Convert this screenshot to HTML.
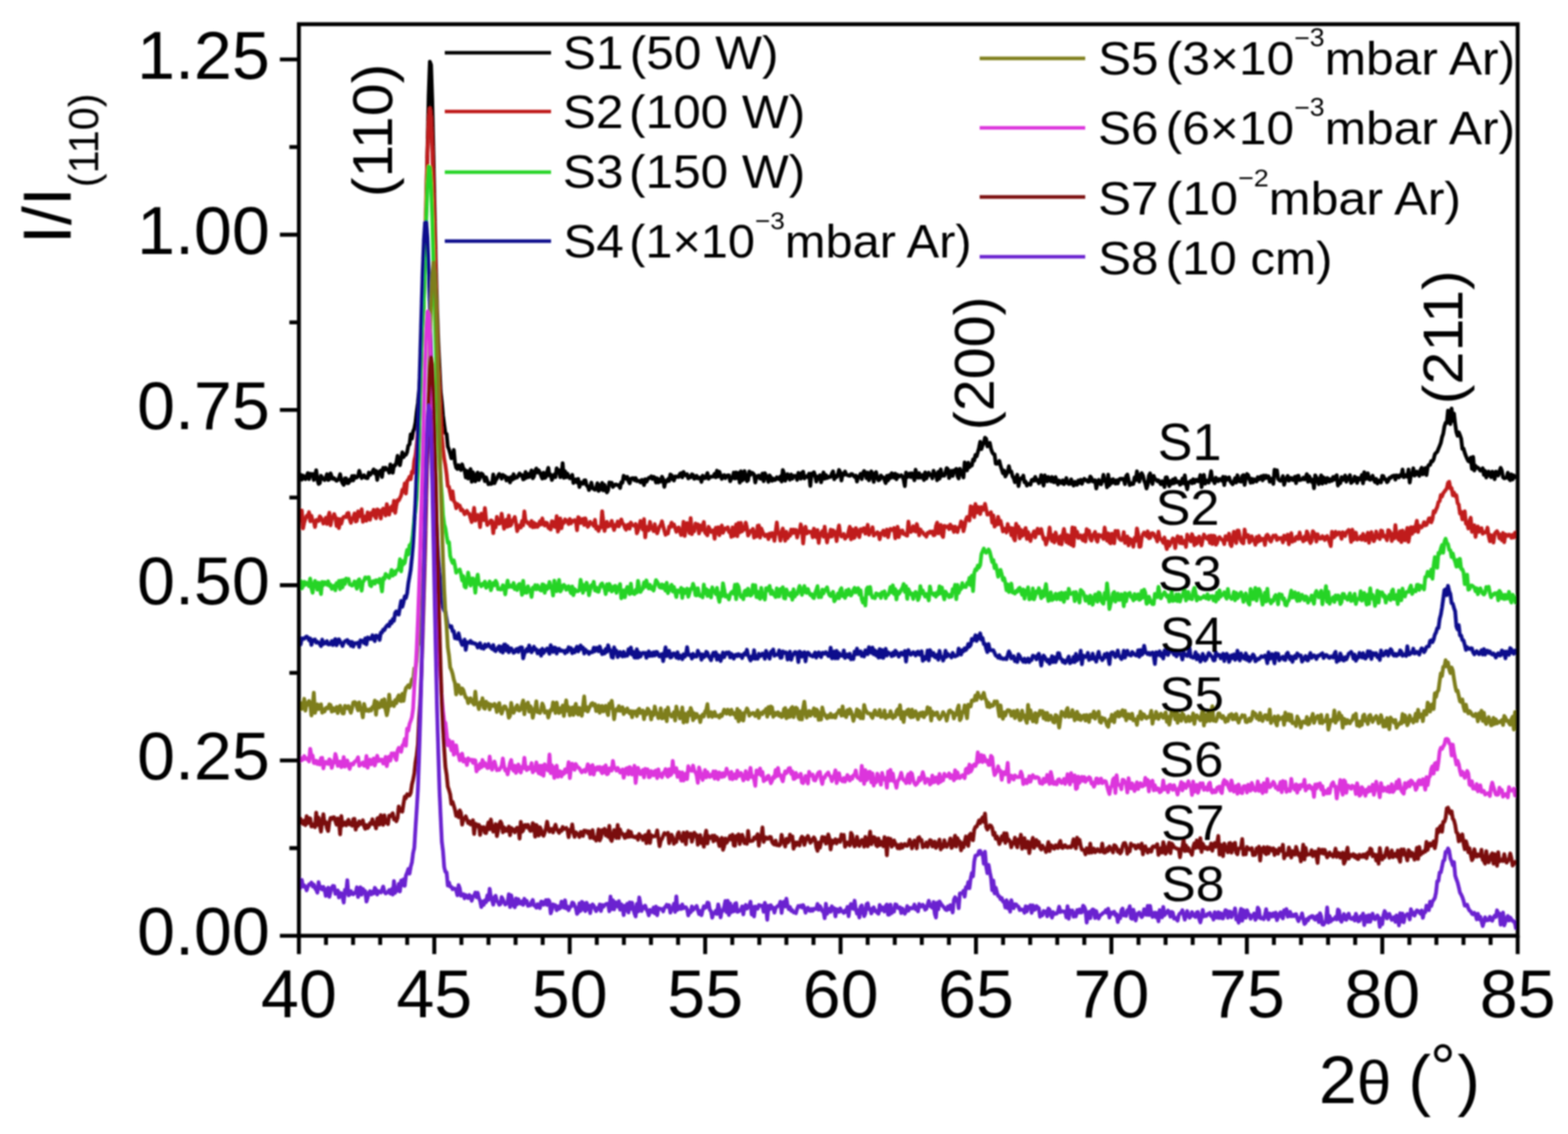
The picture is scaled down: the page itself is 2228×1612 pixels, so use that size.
<!DOCTYPE html>
<html><head><meta charset="utf-8"><title>XRD</title>
<style>html,body{margin:0;padding:0;background:#fff;overflow:hidden;}svg{display:block;}</style>
</head><body>
<svg width="2228" height="1612" viewBox="0 0 2228 1612">
<rect width="2228" height="1612" fill="#ffffff"/>
<defs><filter id="soft" x="0" y="0" width="100%" height="100%" filterUnits="userSpaceOnUse"><feGaussianBlur stdDeviation="0.8"/></filter></defs>
<g filter="url(#soft)">
<g id="curves">
<polyline points="425.5,680.2 427.2,674.8 428.9,681.8 430.6,676.0 432.3,679.5 434.0,681.1 435.7,676.5 437.4,672.5 439.1,681.1 440.8,673.4 442.5,674.5 444.2,673.7 445.9,682.2 447.6,677.9 449.3,668.4 451.0,681.6 452.7,687.9 454.4,686.8 456.1,676.3 457.8,679.0 459.5,680.8 461.2,682.4 462.9,678.9 464.6,674.1 466.3,682.3 468.0,681.4 469.7,672.9 471.4,677.5 473.1,680.6 474.8,679.7 476.5,682.0 478.2,683.4 479.9,682.3 481.6,679.5 483.3,674.0 485.0,682.9 486.7,686.7 488.4,689.2 490.1,680.0 491.8,680.0 493.5,686.9 495.2,686.7 496.9,681.8 498.6,683.3 500.3,676.7 502.0,682.9 503.7,676.6 505.4,679.1 507.1,678.6 508.8,676.8 510.5,669.2 512.2,674.6 513.9,679.6 515.6,677.4 517.3,675.6 519.0,678.9 520.7,679.5 522.4,679.8 524.1,671.8 525.8,675.2 527.5,673.1 529.2,670.4 530.9,667.2 532.6,673.1 534.3,669.3 536.0,682.2 537.7,671.5 539.4,670.1 541.1,668.8 542.8,678.1 544.5,664.9 546.2,668.1 547.9,664.9 549.6,667.4 551.3,667.5 553.0,672.0 554.7,660.1 556.4,665.6 558.1,672.0 559.8,661.7 561.5,661.9 563.2,657.4 564.9,647.9 566.6,657.5 568.3,661.3 570.0,651.7 571.7,643.0 573.4,649.8 575.1,645.9 576.8,646.4 578.5,642.6 580.2,633.3 581.9,631.6 583.6,617.4 585.3,623.5 587.0,613.4 588.7,609.3 590.4,600.5 592.1,585.3 593.8,573.0 595.5,554.7 597.2,531.2 598.9,509.0 600.6,473.4 602.3,424.3 604.0,367.3 605.7,293.3 607.4,212.7 609.1,135.7 610.8,87.6 612.5,92.2 614.2,142.9 615.9,219.9 617.6,302.3 619.3,376.9 621.0,438.9 622.7,486.9 624.4,520.9 626.1,556.1 627.8,571.0 629.5,590.6 631.2,603.5 632.9,615.8 634.6,617.0 636.3,634.7 638.0,638.8 639.7,644.7 641.4,651.5 643.1,646.3 644.8,639.6 646.5,657.9 648.2,664.9 649.9,666.6 651.6,661.3 653.3,664.8 655.0,668.1 656.7,660.1 658.4,666.3 660.1,667.7 661.8,678.7 663.5,669.4 665.2,680.2 666.9,674.1 668.6,666.8 670.3,684.9 672.0,671.3 673.7,679.0 675.4,684.2 677.1,674.4 678.8,671.8 680.5,682.3 682.2,678.5 683.9,673.0 685.6,674.0 687.3,677.7 689.0,684.0 690.7,678.6 692.4,683.4 694.1,688.3 695.8,687.0 697.5,688.1 699.2,687.3 700.9,674.4 702.6,686.9 704.3,682.7 706.0,680.4 707.7,676.3 709.4,673.8 711.1,675.6 712.8,680.4 714.5,675.0 716.2,676.4 717.9,677.1 719.6,682.9 721.3,678.9 723.0,679.3 724.7,685.8 726.4,678.1 728.1,681.9 729.8,674.1 731.5,679.9 733.2,678.7 734.9,678.7 736.6,675.7 738.3,673.0 740.0,676.0 741.7,675.2 743.4,681.5 745.1,680.8 746.8,671.0 748.5,678.9 750.2,673.8 751.9,677.9 753.6,673.2 755.3,668.7 757.0,679.9 758.7,677.3 760.4,669.4 762.1,666.0 763.8,671.7 765.5,668.7 767.2,672.0 768.9,676.4 770.6,680.3 772.3,672.0 774.0,679.5 775.7,678.2 777.4,670.7 779.1,665.0 780.8,676.1 782.5,674.7 784.2,682.3 785.9,677.8 787.6,674.6 789.3,678.2 791.0,665.7 792.7,671.0 794.4,668.4 796.1,678.3 797.8,674.0 799.5,658.4 801.2,679.3 802.9,669.9 804.6,678.4 806.3,673.2 808.0,677.4 809.7,679.9 811.4,679.0 813.1,675.0 814.8,686.6 816.5,682.8 818.2,681.5 819.9,685.7 821.6,680.9 823.3,692.3 825.0,685.7 826.7,687.2 828.4,687.7 830.1,682.9 831.8,682.7 833.5,689.9 835.2,691.3 836.9,696.6 838.6,692.7 840.3,686.1 842.0,693.7 843.7,695.1 845.4,696.1 847.1,693.4 848.8,686.9 850.5,697.9 852.2,689.6 853.9,695.8 855.6,686.4 857.3,697.0 859.0,689.2 860.7,697.0 862.4,700.0 864.1,696.7 865.8,685.8 867.5,686.2 869.2,686.3 870.9,692.2 872.6,690.2 874.3,688.8 876.0,689.0 877.7,689.7 879.4,689.5 881.1,693.7 882.8,685.4 884.5,686.2 886.2,676.3 887.9,678.1 889.6,680.6 891.3,677.9 893.0,683.8 894.7,687.0 896.4,680.3 898.1,680.0 899.8,679.8 901.5,682.6 903.2,679.5 904.9,683.9 906.6,683.4 908.3,683.9 910.0,685.7 911.7,682.2 913.4,682.5 915.1,689.6 916.8,681.2 918.5,684.9 920.2,681.8 921.9,679.2 923.6,679.2 925.3,677.2 927.0,680.8 928.7,677.9 930.4,678.9 932.1,685.9 933.8,679.9 935.5,685.8 937.2,681.6 938.9,684.5 940.6,677.7 942.3,681.0 944.0,692.0 945.7,683.6 947.4,684.5 949.1,681.1 950.8,683.6 952.5,674.4 954.2,675.5 955.9,681.1 957.6,683.0 959.3,677.3 961.0,678.1 962.7,677.3 964.4,678.0 966.1,673.7 967.8,672.7 969.5,678.6 971.2,671.0 972.9,674.5 974.6,675.8 976.3,674.2 978.0,680.1 979.7,677.0 981.4,678.5 983.1,674.2 984.8,675.1 986.5,680.6 988.2,679.7 989.9,676.3 991.6,680.0 993.3,679.2 995.0,679.0 996.7,685.1 998.4,676.2 1000.1,679.9 1001.8,679.8 1003.5,676.9 1005.2,672.6 1006.9,680.6 1008.6,678.6 1010.3,677.6 1012.0,677.5 1013.7,677.5 1015.4,673.5 1017.1,678.5 1018.8,669.1 1020.5,677.4 1022.2,670.6 1023.9,676.0 1025.6,680.8 1027.3,676.3 1029.0,675.4 1030.7,679.7 1032.4,676.3 1034.1,675.7 1035.8,675.8 1037.5,684.0 1039.2,680.4 1040.9,679.3 1042.6,671.8 1044.3,680.2 1046.0,671.6 1047.7,679.7 1049.4,672.2 1051.1,686.1 1052.8,669.9 1054.5,683.0 1056.2,681.3 1057.9,669.6 1059.6,676.3 1061.3,684.0 1063.0,682.7 1064.7,670.1 1066.4,675.0 1068.1,672.0 1069.8,672.8 1071.5,674.6 1073.2,685.9 1074.9,678.2 1076.6,676.6 1078.3,676.0 1080.0,680.3 1081.7,680.5 1083.4,673.2 1085.1,684.0 1086.8,672.6 1088.5,676.2 1090.2,679.5 1091.9,684.9 1093.6,675.8 1095.3,678.7 1097.0,683.4 1098.7,680.4 1100.4,682.5 1102.1,681.9 1103.8,678.4 1105.5,680.1 1107.2,681.3 1108.9,677.2 1110.6,684.5 1112.3,668.1 1114.0,672.8 1115.7,683.3 1117.4,678.7 1119.1,674.1 1120.8,678.8 1122.5,681.9 1124.2,674.5 1125.9,680.3 1127.6,676.4 1129.3,676.5 1131.0,676.6 1132.7,682.2 1134.4,672.2 1136.1,675.9 1137.8,680.4 1139.5,672.0 1141.2,670.5 1142.9,680.1 1144.6,677.7 1146.3,677.0 1148.0,678.2 1149.7,673.2 1151.4,690.8 1153.1,673.2 1154.8,675.7 1156.5,671.3 1158.2,675.8 1159.9,684.5 1161.6,677.7 1163.3,680.4 1165.0,675.5 1166.7,685.6 1168.4,678.1 1170.1,671.6 1171.8,680.5 1173.5,675.3 1175.2,679.6 1176.9,677.7 1178.6,678.2 1180.3,677.8 1182.0,673.1 1183.7,670.2 1185.4,681.4 1187.1,676.2 1188.8,678.2 1190.5,674.7 1192.2,668.0 1193.9,671.4 1195.6,683.0 1197.3,673.2 1199.0,675.1 1200.7,670.3 1202.4,674.7 1204.1,675.2 1205.8,676.0 1207.5,676.4 1209.2,673.9 1210.9,673.9 1212.6,676.1 1214.3,677.8 1216.0,676.0 1217.7,684.5 1219.4,677.7 1221.1,677.4 1222.8,673.6 1224.5,681.1 1226.2,672.3 1227.9,669.5 1229.6,672.4 1231.3,679.8 1233.0,671.8 1234.7,682.8 1236.4,676.9 1238.1,670.0 1239.8,676.0 1241.5,685.0 1243.2,673.0 1244.9,671.2 1246.6,679.3 1248.3,682.8 1250.0,681.7 1251.7,675.9 1253.4,678.3 1255.1,678.6 1256.8,682.2 1258.5,686.7 1260.2,676.4 1261.9,682.9 1263.6,675.5 1265.3,679.6 1267.0,672.7 1268.7,673.8 1270.4,679.1 1272.1,673.3 1273.8,681.3 1275.5,675.1 1277.2,677.7 1278.9,676.7 1280.6,675.6 1282.3,677.6 1284.0,681.8 1285.7,691.0 1287.4,671.7 1289.1,678.4 1290.8,676.2 1292.5,673.0 1294.2,678.2 1295.9,672.8 1297.6,676.7 1299.3,682.7 1301.0,667.8 1302.7,678.1 1304.4,679.0 1306.1,672.6 1307.8,679.0 1309.5,678.2 1311.2,675.0 1312.9,682.4 1314.6,671.4 1316.3,680.2 1318.0,675.9 1319.7,671.9 1321.4,675.4 1323.1,674.7 1324.8,679.9 1326.5,669.2 1328.2,674.9 1329.9,673.6 1331.6,682.7 1333.3,670.6 1335.0,680.4 1336.7,667.3 1338.4,676.5 1340.1,674.1 1341.8,676.2 1343.5,671.0 1345.2,665.4 1346.9,667.0 1348.6,679.6 1350.3,674.4 1352.0,669.2 1353.7,676.6 1355.4,668.8 1357.1,668.7 1358.8,666.5 1360.5,676.6 1362.2,680.1 1363.9,666.4 1365.6,671.4 1367.3,674.0 1369.0,678.7 1370.7,657.3 1372.4,667.7 1374.1,668.7 1375.8,657.6 1377.5,664.2 1379.2,661.6 1380.9,661.7 1382.6,653.3 1384.3,654.8 1386.0,646.8 1387.7,648.8 1389.4,643.0 1391.1,636.6 1392.8,628.0 1394.5,638.4 1396.2,633.0 1397.9,629.9 1399.6,622.2 1401.3,623.8 1403.0,634.6 1404.7,633.3 1406.4,629.5 1408.1,637.8 1409.8,642.7 1411.5,645.4 1413.2,645.9 1414.9,659.1 1416.6,659.3 1418.3,658.7 1420.0,655.1 1421.7,662.1 1423.4,667.3 1425.1,672.8 1426.8,669.0 1428.5,677.3 1430.2,674.0 1431.9,671.1 1433.6,662.7 1435.3,670.7 1437.0,670.2 1438.7,677.0 1440.4,679.8 1442.1,685.4 1443.8,679.3 1445.5,674.9 1447.2,691.0 1448.9,682.2 1450.6,679.9 1452.3,680.6 1454.0,676.1 1455.7,685.4 1457.4,684.5 1459.1,690.3 1460.8,688.2 1462.5,687.5 1464.2,689.0 1465.9,682.3 1467.6,681.7 1469.3,683.4 1471.0,677.9 1472.7,682.9 1474.4,682.3 1476.1,686.9 1477.8,683.9 1479.5,675.4 1481.2,684.0 1482.9,690.3 1484.6,675.8 1486.3,680.6 1488.0,684.2 1489.7,678.0 1491.4,681.5 1493.1,684.1 1494.8,678.1 1496.5,685.1 1498.2,685.5 1499.9,678.2 1501.6,683.8 1503.3,688.6 1505.0,683.1 1506.7,685.6 1508.4,686.7 1510.1,682.9 1511.8,688.3 1513.5,685.8 1515.2,679.6 1516.9,686.4 1518.6,688.1 1520.3,687.7 1522.0,681.4 1523.7,686.4 1525.4,690.2 1527.1,684.9 1528.8,688.9 1530.5,689.1 1532.2,683.0 1533.9,686.4 1535.6,682.0 1537.3,687.8 1539.0,682.8 1540.7,680.6 1542.4,682.7 1544.1,682.5 1545.8,684.8 1547.5,684.9 1549.2,677.4 1550.9,679.7 1552.6,684.4 1554.3,684.7 1556.0,682.7 1557.7,694.4 1559.4,687.7 1561.1,682.2 1562.8,685.8 1564.5,688.4 1566.2,684.4 1567.9,675.0 1569.6,683.5 1571.3,683.2 1573.0,692.7 1574.7,674.7 1576.4,689.8 1578.1,681.9 1579.8,686.7 1581.5,681.2 1583.2,683.3 1584.9,687.5 1586.6,682.8 1588.3,687.2 1590.0,681.9 1591.7,680.5 1593.4,681.3 1595.1,680.4 1596.8,681.8 1598.5,688.2 1600.2,676.7 1601.9,674.6 1603.6,682.0 1605.3,689.6 1607.0,686.8 1608.7,688.3 1610.4,687.9 1612.1,678.8 1613.8,682.7 1615.5,670.0 1617.2,679.3 1618.9,684.7 1620.6,674.9 1622.3,672.7 1624.0,676.0 1625.7,683.0 1627.4,687.4 1629.1,694.3 1630.8,689.2 1632.5,676.2 1634.2,672.9 1635.9,683.9 1637.6,688.1 1639.3,676.4 1641.0,681.2 1642.7,681.6 1644.4,684.0 1646.1,682.8 1647.8,685.7 1649.5,688.3 1651.2,684.0 1652.9,686.9 1654.6,692.3 1656.3,678.6 1658.0,678.4 1659.7,685.4 1661.4,691.1 1663.1,683.8 1664.8,687.8 1666.5,681.7 1668.2,686.9 1669.9,679.9 1671.6,685.7 1673.3,684.5 1675.0,684.4 1676.7,689.0 1678.4,687.7 1680.1,680.3 1681.8,687.1 1683.5,675.6 1685.2,687.7 1686.9,695.5 1688.6,685.7 1690.3,685.5 1692.0,683.6 1693.7,687.0 1695.4,681.3 1697.1,686.2 1698.8,682.1 1700.5,681.9 1702.2,684.2 1703.9,683.1 1705.6,675.3 1707.3,692.5 1709.0,683.5 1710.7,675.1 1712.4,687.5 1714.1,682.7 1715.8,683.8 1717.5,686.0 1719.2,679.0 1720.9,669.8 1722.6,682.3 1724.3,683.7 1726.0,686.9 1727.7,679.1 1729.4,681.5 1731.1,684.0 1732.8,681.0 1734.5,681.3 1736.2,683.4 1737.9,677.8 1739.6,689.6 1741.3,678.2 1743.0,682.2 1744.7,680.5 1746.4,678.6 1748.1,684.2 1749.8,686.5 1751.5,688.3 1753.2,684.4 1754.9,679.9 1756.6,685.9 1758.3,675.6 1760.0,682.5 1761.7,684.4 1763.4,684.7 1765.1,676.7 1766.8,675.3 1768.5,689.4 1770.2,679.2 1771.9,673.8 1773.6,675.5 1775.3,681.1 1777.0,686.1 1778.7,680.5 1780.4,685.7 1782.1,681.3 1783.8,682.2 1785.5,684.4 1787.2,678.3 1788.9,681.5 1790.6,678.2 1792.3,677.0 1794.0,682.8 1795.7,676.0 1797.4,679.9 1799.1,676.1 1800.8,679.2 1802.5,677.1 1804.2,684.8 1805.9,680.4 1807.6,680.7 1809.3,687.9 1811.0,667.7 1812.7,675.7 1814.4,668.4 1816.1,680.7 1817.8,682.6 1819.5,683.5 1821.2,681.7 1822.9,676.9 1824.6,689.2 1826.3,682.9 1828.0,680.4 1829.7,676.5 1831.4,683.3 1833.1,679.4 1834.8,679.5 1836.5,682.3 1838.2,682.3 1839.9,677.7 1841.6,686.8 1843.3,676.8 1845.0,676.2 1846.7,682.6 1848.4,681.9 1850.1,681.5 1851.8,679.2 1853.5,681.5 1855.2,678.7 1856.9,674.0 1858.6,684.8 1860.3,677.1 1862.0,680.6 1863.7,685.0 1865.4,681.8 1867.1,694.1 1868.8,675.6 1870.5,678.7 1872.2,682.6 1873.9,688.2 1875.6,680.9 1877.3,675.7 1879.0,687.5 1880.7,678.6 1882.4,681.7 1884.1,686.3 1885.8,679.4 1887.5,680.5 1889.2,684.6 1890.9,681.4 1892.6,683.5 1894.3,678.0 1896.0,681.7 1897.7,677.4 1899.4,675.5 1901.1,690.3 1902.8,684.7 1904.5,686.9 1906.2,678.3 1907.9,682.3 1909.6,681.4 1911.3,675.9 1913.0,684.8 1914.7,679.1 1916.4,681.5 1918.1,675.4 1919.8,686.5 1921.5,685.0 1923.2,683.5 1924.9,677.5 1926.6,679.0 1928.3,686.5 1930.0,679.6 1931.7,682.0 1933.4,681.0 1935.1,675.2 1936.8,687.0 1938.5,671.1 1940.2,681.1 1941.9,679.5 1943.6,672.8 1945.3,681.3 1947.0,682.1 1948.7,679.9 1950.4,676.2 1952.1,681.9 1953.8,685.2 1955.5,680.7 1957.2,687.3 1958.9,683.4 1960.6,683.0 1962.3,685.8 1964.0,676.4 1965.7,676.9 1967.4,681.3 1969.1,681.2 1970.8,685.5 1972.5,683.8 1974.2,679.3 1975.9,679.5 1977.6,677.3 1979.3,676.6 1981.0,676.0 1982.7,681.8 1984.4,675.8 1986.1,676.4 1987.8,678.6 1989.5,675.3 1991.2,676.5 1992.9,667.4 1994.6,678.4 1996.3,675.2 1998.0,677.2 1999.7,677.7 2001.4,667.4 2003.1,686.1 2004.8,675.4 2006.5,675.1 2008.2,665.7 2009.9,676.0 2011.6,674.7 2013.3,670.4 2015.0,672.4 2016.7,676.4 2018.4,668.3 2020.1,664.9 2021.8,674.2 2023.5,668.9 2025.2,665.4 2026.9,675.3 2028.6,664.0 2030.3,660.9 2032.0,660.9 2033.7,655.4 2035.4,655.9 2037.1,652.9 2038.8,645.8 2040.5,643.8 2042.2,642.3 2043.9,638.1 2045.6,633.9 2047.3,629.6 2049.0,621.5 2050.7,616.6 2052.4,606.3 2054.1,601.0 2055.8,601.3 2057.5,583.6 2059.2,591.5 2060.9,602.8 2062.6,580.8 2064.3,598.4 2066.0,587.8 2067.7,602.7 2069.4,614.1 2071.1,619.4 2072.8,614.5 2074.5,618.5 2076.2,623.5 2077.9,638.1 2079.6,637.8 2081.3,643.7 2083.0,648.3 2084.7,652.3 2086.4,655.6 2088.1,656.3 2089.8,650.6 2091.5,666.5 2093.2,649.4 2094.9,668.9 2096.6,662.2 2098.3,665.1 2100.0,664.8 2101.7,666.4 2103.4,669.0 2105.1,668.6 2106.8,665.5 2108.5,675.1 2110.2,669.3 2111.9,678.8 2113.6,672.3 2115.3,670.4 2117.0,675.9 2118.7,678.3 2120.4,670.5 2122.1,673.7 2123.8,681.2 2125.5,670.4 2127.2,671.3 2128.9,675.9 2130.6,670.1 2132.3,665.0 2134.0,668.9 2135.7,678.5 2137.4,680.0 2139.1,679.5 2140.8,678.9 2142.5,671.9 2144.2,680.5 2145.9,682.7 2147.6,674.3 2149.3,681.6 2151.0,675.8 2152.7,678.4 2154.4,679.3" fill="none" stroke="#000000" stroke-width="5.4" stroke-linejoin="round"/>
<polyline points="425.5,737.1 427.2,739.3 428.9,725.8 430.6,751.1 432.3,742.8 434.0,737.6 435.7,733.3 437.4,734.3 439.1,728.1 440.8,741.0 442.5,733.1 444.2,740.6 445.9,740.7 447.6,749.1 449.3,739.1 451.0,739.2 452.7,740.5 454.4,734.0 456.1,736.1 457.8,739.2 459.5,744.3 461.2,741.9 462.9,736.1 464.6,744.8 466.3,735.5 468.0,728.8 469.7,746.8 471.4,737.7 473.1,735.1 474.8,730.7 476.5,735.2 478.2,747.7 479.9,737.5 481.6,750.7 483.3,738.0 485.0,744.4 486.7,737.8 488.4,734.6 490.1,734.4 491.8,735.1 493.5,729.6 495.2,729.2 496.9,738.1 498.6,743.2 500.3,736.7 502.0,735.9 503.7,729.9 505.4,741.4 507.1,740.3 508.8,727.0 510.5,734.2 512.2,731.4 513.9,724.0 515.6,741.8 517.3,739.4 519.0,734.0 520.7,740.2 522.4,728.3 524.1,732.6 525.8,738.8 527.5,728.9 529.2,732.2 530.9,724.7 532.6,733.9 534.3,736.7 536.0,724.1 537.7,725.1 539.4,728.8 541.1,737.0 542.8,725.4 544.5,723.0 546.2,726.4 547.9,732.8 549.6,716.7 551.3,723.6 553.0,731.5 554.7,722.7 556.4,720.1 558.1,725.4 559.8,711.9 561.5,729.1 563.2,718.0 564.9,711.0 566.6,711.4 568.3,708.0 570.0,704.2 571.7,696.3 573.4,699.0 575.1,687.2 576.8,701.6 578.5,683.7 580.2,682.0 581.9,677.7 583.6,681.1 585.3,670.6 587.0,672.2 588.7,654.6 590.4,647.3 592.1,632.9 593.8,613.7 595.5,594.7 597.2,563.0 598.9,522.0 600.6,464.9 602.3,410.5 604.0,342.9 605.7,276.2 607.4,214.4 609.1,170.7 610.8,154.3 612.5,168.9 614.2,213.3 615.9,271.9 617.6,340.4 619.3,407.7 621.0,466.8 622.7,517.5 624.4,553.1 626.1,591.3 627.8,620.0 629.5,638.6 631.2,652.5 632.9,661.6 634.6,674.2 636.3,691.0 638.0,692.1 639.7,700.9 641.4,709.5 643.1,698.5 644.8,712.1 646.5,714.4 648.2,722.4 649.9,716.4 651.6,718.8 653.3,718.7 655.0,725.5 656.7,724.3 658.4,726.6 660.1,730.9 661.8,728.3 663.5,726.2 665.2,730.1 666.9,730.3 668.6,736.7 670.3,742.1 672.0,733.4 673.7,721.9 675.4,740.0 677.1,736.8 678.8,732.1 680.5,736.5 682.2,749.3 683.9,730.2 685.6,732.6 687.3,739.3 689.0,722.1 690.7,737.8 692.4,746.3 694.1,744.1 695.8,743.4 697.5,739.7 699.2,740.7 700.9,757.9 702.6,743.4 704.3,749.7 706.0,734.6 707.7,743.6 709.4,744.5 711.1,743.5 712.8,730.1 714.5,740.7 716.2,751.7 717.9,746.3 719.6,738.7 721.3,748.7 723.0,732.9 724.7,747.4 726.4,746.0 728.1,740.3 729.8,738.2 731.5,734.8 733.2,743.4 734.9,755.0 736.6,749.9 738.3,746.9 740.0,749.9 741.7,740.7 743.4,746.8 745.1,727.0 746.8,741.2 748.5,741.4 750.2,744.0 751.9,743.3 753.6,747.7 755.3,740.6 757.0,749.6 758.7,743.1 760.4,749.2 762.1,744.9 763.8,748.9 765.5,746.8 767.2,740.9 768.9,745.4 770.6,737.0 772.3,745.1 774.0,747.0 775.7,742.9 777.4,743.6 779.1,750.1 780.8,751.4 782.5,752.7 784.2,741.0 785.9,741.5 787.6,748.5 789.3,749.2 791.0,733.6 792.7,755.7 794.4,751.0 796.1,736.9 797.8,750.9 799.5,741.6 801.2,743.3 802.9,738.4 804.6,739.5 806.3,741.9 808.0,744.8 809.7,737.8 811.4,743.9 813.1,740.2 814.8,741.1 816.5,739.2 818.2,740.4 819.9,753.7 821.6,735.1 823.3,736.5 825.0,743.4 826.7,740.8 828.4,737.5 830.1,746.2 831.8,736.8 833.5,743.5 835.2,749.0 836.9,746.7 838.6,741.9 840.3,743.9 842.0,744.9 843.7,747.7 845.4,739.0 847.1,751.6 848.8,748.5 850.5,754.8 852.2,748.9 853.9,749.8 855.6,726.6 857.3,741.2 859.0,754.7 860.7,746.4 862.4,741.9 864.1,748.5 865.8,745.2 867.5,747.0 869.2,740.4 870.9,747.7 872.6,753.5 874.3,746.3 876.0,747.8 877.7,741.3 879.4,748.3 881.1,743.7 882.8,738.4 884.5,744.0 886.2,745.3 887.9,750.3 889.6,752.9 891.3,746.5 893.0,745.6 894.7,751.6 896.4,742.8 898.1,746.2 899.8,746.8 901.5,747.4 903.2,744.9 904.9,758.1 906.6,754.1 908.3,748.0 910.0,740.6 911.7,746.2 913.4,752.7 915.1,738.0 916.8,763.9 918.5,749.0 920.2,749.7 921.9,753.7 923.6,741.8 925.3,750.8 927.0,750.8 928.7,755.0 930.4,745.1 932.1,754.8 933.8,758.1 935.5,753.2 937.2,748.3 938.9,746.4 940.6,741.1 942.3,748.0 944.0,754.3 945.7,760.2 947.4,757.4 949.1,758.4 950.8,748.7 952.5,749.3 954.2,742.9 955.9,748.0 957.6,745.5 959.3,750.6 961.0,756.0 962.7,751.2 964.4,749.8 966.1,755.7 967.8,760.5 969.5,757.9 971.2,741.7 972.9,761.9 974.6,749.3 976.3,743.5 978.0,749.8 979.7,757.8 981.4,736.4 983.1,759.4 984.8,753.1 986.5,755.2 988.2,744.1 989.9,748.7 991.6,745.3 993.3,758.4 995.0,746.9 996.7,753.7 998.4,747.7 1000.1,742.0 1001.8,757.0 1003.5,758.9 1005.2,761.0 1006.9,748.8 1008.6,752.4 1010.3,756.2 1012.0,754.3 1013.7,753.7 1015.4,765.9 1017.1,750.2 1018.8,757.9 1020.5,749.6 1022.2,760.9 1023.9,751.2 1025.6,747.0 1027.3,757.4 1029.0,753.5 1030.7,751.1 1032.4,752.1 1034.1,749.6 1035.8,756.3 1037.5,755.3 1039.2,763.2 1040.9,749.7 1042.6,761.9 1044.3,756.8 1046.0,745.4 1047.7,762.2 1049.4,743.4 1051.1,756.9 1052.8,743.2 1054.5,755.4 1056.2,751.7 1057.9,752.6 1059.6,743.0 1061.3,749.9 1063.0,761.3 1064.7,758.2 1066.4,754.6 1068.1,754.4 1069.8,751.8 1071.5,764.3 1073.2,755.9 1074.9,762.6 1076.6,747.5 1078.3,747.1 1080.0,764.2 1081.7,751.3 1083.4,755.6 1085.1,759.5 1086.8,762.1 1088.5,760.2 1090.2,759.9 1091.9,766.4 1093.6,758.5 1095.3,762.6 1097.0,757.8 1098.7,758.4 1100.4,768.8 1102.1,756.2 1103.8,742.8 1105.5,758.2 1107.2,758.9 1108.9,768.6 1110.6,755.9 1112.3,751.3 1114.0,758.7 1115.7,768.7 1117.4,755.9 1119.1,765.1 1120.8,760.4 1122.5,761.5 1124.2,752.8 1125.9,758.0 1127.6,752.7 1129.3,757.3 1131.0,753.3 1132.7,764.1 1134.4,754.9 1136.1,756.9 1137.8,745.3 1139.5,752.4 1141.2,772.6 1142.9,756.0 1144.6,748.8 1146.3,758.3 1148.0,757.0 1149.7,755.6 1151.4,756.7 1153.1,755.8 1154.8,763.8 1156.5,751.4 1158.2,759.9 1159.9,763.6 1161.6,753.4 1163.3,771.8 1165.0,758.7 1166.7,757.9 1168.4,755.2 1170.1,762.9 1171.8,748.8 1173.5,761.5 1175.2,771.1 1176.9,760.2 1178.6,763.1 1180.3,752.9 1182.0,762.7 1183.7,753.8 1185.4,755.6 1187.1,758.1 1188.8,769.3 1190.5,754.9 1192.2,746.9 1193.9,758.8 1195.6,762.6 1197.3,761.7 1199.0,759.1 1200.7,765.8 1202.4,762.8 1204.1,762.7 1205.8,755.2 1207.5,748.8 1209.2,766.8 1210.9,752.4 1212.6,764.9 1214.3,764.2 1216.0,750.6 1217.7,753.7 1219.4,760.2 1221.1,763.5 1222.8,752.3 1224.5,755.7 1226.2,751.6 1227.9,750.7 1229.6,758.6 1231.3,755.2 1233.0,746.1 1234.7,760.3 1236.4,755.2 1238.1,755.0 1239.8,749.5 1241.5,761.4 1243.2,758.8 1244.9,758.8 1246.6,756.5 1248.3,759.1 1250.0,766.6 1251.7,757.9 1253.4,758.3 1255.1,754.3 1256.8,761.1 1258.5,755.7 1260.2,752.8 1261.9,763.7 1263.6,755.9 1265.3,751.9 1267.0,752.7 1268.7,753.8 1270.4,750.5 1272.1,765.2 1273.8,760.1 1275.5,748.8 1277.2,763.5 1278.9,754.3 1280.6,757.8 1282.3,754.1 1284.0,759.0 1285.7,758.6 1287.4,760.9 1289.1,761.4 1290.8,741.5 1292.5,753.5 1294.2,756.2 1295.9,754.9 1297.6,748.0 1299.3,754.5 1301.0,755.6 1302.7,745.0 1304.4,751.8 1306.1,760.9 1307.8,752.6 1309.5,755.8 1311.2,756.7 1312.9,759.6 1314.6,760.6 1316.3,762.8 1318.0,757.4 1319.7,757.8 1321.4,755.7 1323.1,757.5 1324.8,755.6 1326.5,760.8 1328.2,760.5 1329.9,748.1 1331.6,742.9 1333.3,758.3 1335.0,752.6 1336.7,746.2 1338.4,760.5 1340.1,763.3 1341.8,747.4 1343.5,748.2 1345.2,749.3 1346.9,748.2 1348.6,752.1 1350.3,745.7 1352.0,751.2 1353.7,748.5 1355.4,756.2 1357.1,748.7 1358.8,753.6 1360.5,756.3 1362.2,749.5 1363.9,749.0 1365.6,741.3 1367.3,743.1 1369.0,755.2 1370.7,748.4 1372.4,739.0 1374.1,734.9 1375.8,734.7 1377.5,740.0 1379.2,719.8 1380.9,731.6 1382.6,721.0 1384.3,735.0 1386.0,716.5 1387.7,728.9 1389.4,720.7 1391.1,721.6 1392.8,730.7 1394.5,720.8 1396.2,725.0 1397.9,724.3 1399.6,716.2 1401.3,724.0 1403.0,731.6 1404.7,729.7 1406.4,731.0 1408.1,728.0 1409.8,743.0 1411.5,732.7 1413.2,748.6 1414.9,741.0 1416.6,745.8 1418.3,734.7 1420.0,744.9 1421.7,740.3 1423.4,747.5 1425.1,755.4 1426.8,751.5 1428.5,751.8 1430.2,756.9 1431.9,745.0 1433.6,753.4 1435.3,750.2 1437.0,760.8 1438.7,751.0 1440.4,765.2 1442.1,768.2 1443.8,744.5 1445.5,756.5 1447.2,748.6 1448.9,765.3 1450.6,753.0 1452.3,761.9 1454.0,760.6 1455.7,753.9 1457.4,750.6 1459.1,766.1 1460.8,756.4 1462.5,761.7 1464.2,769.1 1465.9,760.8 1467.6,759.5 1469.3,755.2 1471.0,763.9 1472.7,756.5 1474.4,751.6 1476.1,758.2 1477.8,757.8 1479.5,752.1 1481.2,760.3 1482.9,766.4 1484.6,765.0 1486.3,773.9 1488.0,768.7 1489.7,763.5 1491.4,749.9 1493.1,763.4 1494.8,769.1 1496.5,760.8 1498.2,771.0 1499.9,757.0 1501.6,764.1 1503.3,767.3 1505.0,772.7 1506.7,762.2 1508.4,773.9 1510.1,760.1 1511.8,751.9 1513.5,761.8 1515.2,770.5 1516.9,760.6 1518.6,772.6 1520.3,761.6 1522.0,774.3 1523.7,749.6 1525.4,776.3 1527.1,750.5 1528.8,762.5 1530.5,755.8 1532.2,764.7 1533.9,761.6 1535.6,761.0 1537.3,766.2 1539.0,768.2 1540.7,760.4 1542.4,769.8 1544.1,752.1 1545.8,756.3 1547.5,754.6 1549.2,765.8 1550.9,768.5 1552.6,760.7 1554.3,759.5 1556.0,756.1 1557.7,767.2 1559.4,770.0 1561.1,760.2 1562.8,762.5 1564.5,761.1 1566.2,763.2 1567.9,766.0 1569.6,750.0 1571.3,760.1 1573.0,768.4 1574.7,758.2 1576.4,771.1 1578.1,772.4 1579.8,758.6 1581.5,759.5 1583.2,772.2 1584.9,754.6 1586.6,758.4 1588.3,754.7 1590.0,764.7 1591.7,766.8 1593.4,767.8 1595.1,766.5 1596.8,756.5 1598.5,771.8 1600.2,764.4 1601.9,762.6 1603.6,775.4 1605.3,765.8 1607.0,767.0 1608.7,770.1 1610.4,777.2 1612.1,764.8 1613.8,768.9 1615.5,751.1 1617.2,759.3 1618.9,777.3 1620.6,776.9 1622.3,764.1 1624.0,759.6 1625.7,757.0 1627.4,758.0 1629.1,762.2 1630.8,755.3 1632.5,765.1 1634.2,764.7 1635.9,758.3 1637.6,757.8 1639.3,758.8 1641.0,763.0 1642.7,764.9 1644.4,769.6 1646.1,755.8 1647.8,764.2 1649.5,766.5 1651.2,768.2 1652.9,771.6 1654.6,764.1 1656.3,774.1 1658.0,780.5 1659.7,769.4 1661.4,776.0 1663.1,772.5 1664.8,769.3 1666.5,765.2 1668.2,767.9 1669.9,779.0 1671.6,767.2 1673.3,762.4 1675.0,764.0 1676.7,771.9 1678.4,763.6 1680.1,772.6 1681.8,771.4 1683.5,768.8 1685.2,777.5 1686.9,759.9 1688.6,764.1 1690.3,766.2 1692.0,769.6 1693.7,759.3 1695.4,763.8 1697.1,775.0 1698.8,765.0 1700.5,772.9 1702.2,766.1 1703.9,762.7 1705.6,770.2 1707.3,775.1 1709.0,767.0 1710.7,759.8 1712.4,763.0 1714.1,765.1 1715.8,766.2 1717.5,762.1 1719.2,771.7 1720.9,761.3 1722.6,773.4 1724.3,761.5 1726.0,762.0 1727.7,774.4 1729.4,771.8 1731.1,765.1 1732.8,763.5 1734.5,765.6 1736.2,767.2 1737.9,768.4 1739.6,773.5 1741.3,762.1 1743.0,766.9 1744.7,767.2 1746.4,758.6 1748.1,773.5 1749.8,776.3 1751.5,766.5 1753.2,756.0 1754.9,761.6 1756.6,771.9 1758.3,754.3 1760.0,754.3 1761.7,763.0 1763.4,769.0 1765.1,771.3 1766.8,772.4 1768.5,752.6 1770.2,763.4 1771.9,760.8 1773.6,760.8 1775.3,771.2 1777.0,769.3 1778.7,762.3 1780.4,767.9 1782.1,768.1 1783.8,774.4 1785.5,763.5 1787.2,770.3 1788.9,762.0 1790.6,768.7 1792.3,765.7 1794.0,767.4 1795.7,765.8 1797.4,774.7 1799.1,761.8 1800.8,760.2 1802.5,762.3 1804.2,768.1 1805.9,769.8 1807.6,765.2 1809.3,761.4 1811.0,763.0 1812.7,761.0 1814.4,767.7 1816.1,764.7 1817.8,765.9 1819.5,764.7 1821.2,764.9 1822.9,771.1 1824.6,761.5 1826.3,766.5 1828.0,766.7 1829.7,760.0 1831.4,773.7 1833.1,765.8 1834.8,758.0 1836.5,770.0 1838.2,767.7 1839.9,768.5 1841.6,763.3 1843.3,762.8 1845.0,765.8 1846.7,757.0 1848.4,765.5 1850.1,764.9 1851.8,769.5 1853.5,763.0 1855.2,767.5 1856.9,755.5 1858.6,759.2 1860.3,767.8 1862.0,771.9 1863.7,768.9 1865.4,755.2 1867.1,757.5 1868.8,759.8 1870.5,769.9 1872.2,759.4 1873.9,764.3 1875.6,765.7 1877.3,765.6 1879.0,762.1 1880.7,764.6 1882.4,767.6 1884.1,763.2 1885.8,762.0 1887.5,766.7 1889.2,770.7 1890.9,776.3 1892.6,755.9 1894.3,764.2 1896.0,763.3 1897.7,756.0 1899.4,760.5 1901.1,758.2 1902.8,756.8 1904.5,758.8 1906.2,765.9 1907.9,756.6 1909.6,759.6 1911.3,761.8 1913.0,756.7 1914.7,755.4 1916.4,753.3 1918.1,758.2 1919.8,770.4 1921.5,752.9 1923.2,767.3 1924.9,757.3 1926.6,757.3 1928.3,767.1 1930.0,765.8 1931.7,766.1 1933.4,762.5 1935.1,767.2 1936.8,759.0 1938.5,764.8 1940.2,768.2 1941.9,762.3 1943.6,757.4 1945.3,771.6 1947.0,760.7 1948.7,756.4 1950.4,765.6 1952.1,769.3 1953.8,765.6 1955.5,755.6 1957.2,762.9 1958.9,764.4 1960.6,766.2 1962.3,754.2 1964.0,754.8 1965.7,762.7 1967.4,761.6 1969.1,764.1 1970.8,768.0 1972.5,753.6 1974.2,754.6 1975.9,757.6 1977.6,769.1 1979.3,759.1 1981.0,765.5 1982.7,746.4 1984.4,761.0 1986.1,764.9 1987.8,767.4 1989.5,755.2 1991.2,770.6 1992.9,754.2 1994.6,767.2 1996.3,768.0 1998.0,757.6 1999.7,750.5 2001.4,770.4 2003.1,759.5 2004.8,749.5 2006.5,758.8 2008.2,749.4 2009.9,755.7 2011.6,747.7 2013.3,740.3 2015.0,756.2 2016.7,747.3 2018.4,749.5 2020.1,749.7 2021.8,746.9 2023.5,742.3 2025.2,746.8 2026.9,746.2 2028.6,742.3 2030.3,737.0 2032.0,736.7 2033.7,742.6 2035.4,738.1 2037.1,726.8 2038.8,728.4 2040.5,724.2 2042.2,720.7 2043.9,713.6 2045.6,712.4 2047.3,703.8 2049.0,705.7 2050.7,701.1 2052.4,699.1 2054.1,696.6 2055.8,694.3 2057.5,686.3 2059.2,684.9 2060.9,694.2 2062.6,693.9 2064.3,704.1 2066.0,700.1 2067.7,705.2 2069.4,704.1 2071.1,715.1 2072.8,717.4 2074.5,730.1 2076.2,727.5 2077.9,738.4 2079.6,729.0 2081.3,726.8 2083.0,744.5 2084.7,743.1 2086.4,751.2 2088.1,740.2 2089.8,735.9 2091.5,756.1 2093.2,750.0 2094.9,746.6 2096.6,763.3 2098.3,752.7 2100.0,748.4 2101.7,756.1 2103.4,751.8 2105.1,750.8 2106.8,758.7 2108.5,757.2 2110.2,756.2 2111.9,757.0 2113.6,750.0 2115.3,762.2 2117.0,769.4 2118.7,760.7 2120.4,766.8 2122.1,771.2 2123.8,758.9 2125.5,756.6 2127.2,755.2 2128.9,758.3 2130.6,765.3 2132.3,760.1 2134.0,768.0 2135.7,757.6 2137.4,770.8 2139.1,759.7 2140.8,760.7 2142.5,761.8 2144.2,759.9 2145.9,760.7 2147.6,764.5 2149.3,760.3 2151.0,764.0 2152.7,757.1 2154.4,757.2" fill="none" stroke="#c01c1c" stroke-width="5.4" stroke-linejoin="round"/>
<polyline points="425.5,836.2 427.2,826.0 428.9,836.3 430.6,833.3 432.3,827.0 434.0,831.2 435.7,828.4 437.4,829.7 439.1,833.3 440.8,822.5 442.5,836.0 444.2,842.6 445.9,830.5 447.6,825.8 449.3,829.0 451.0,838.2 452.7,828.3 454.4,834.1 456.1,844.4 457.8,827.1 459.5,831.8 461.2,827.6 462.9,828.6 464.6,831.2 466.3,826.2 468.0,832.9 469.7,831.0 471.4,837.1 473.1,834.3 474.8,832.5 476.5,839.1 478.2,829.0 479.9,833.3 481.6,825.8 483.3,837.5 485.0,825.1 486.7,835.0 488.4,824.6 490.1,830.2 491.8,822.5 493.5,824.2 495.2,823.0 496.9,830.9 498.6,831.3 500.3,832.5 502.0,830.1 503.7,826.6 505.4,831.6 507.1,836.8 508.8,825.7 510.5,823.5 512.2,831.1 513.9,839.7 515.6,827.0 517.3,825.3 519.0,820.8 520.7,822.3 522.4,820.9 524.1,820.7 525.8,832.1 527.5,833.2 529.2,826.6 530.9,826.1 532.6,829.7 534.3,824.8 536.0,825.2 537.7,827.6 539.4,823.1 541.1,830.1 542.8,840.7 544.5,821.8 546.2,823.0 547.9,815.9 549.6,817.6 551.3,820.1 553.0,821.4 554.7,817.0 556.4,810.2 558.1,818.3 559.8,812.3 561.5,816.2 563.2,811.2 564.9,810.1 566.6,808.7 568.3,795.0 570.0,812.2 571.7,797.6 573.4,801.9 575.1,800.0 576.8,790.1 578.5,781.8 580.2,788.2 581.9,775.2 583.6,774.2 585.3,769.7 587.0,755.7 588.7,737.1 590.4,725.7 592.1,709.1 593.8,676.1 595.5,646.6 597.2,595.9 598.9,546.7 600.6,487.1 602.3,426.7 604.0,368.3 605.7,308.8 607.4,262.3 609.1,236.6 610.8,238.3 612.5,263.2 614.2,309.0 615.9,372.1 617.6,430.6 619.3,495.4 621.0,553.7 622.7,604.4 624.4,650.0 626.1,681.0 627.8,702.6 629.5,732.1 631.2,745.2 632.9,751.1 634.6,762.2 636.3,771.5 638.0,770.7 639.7,790.2 641.4,796.1 643.1,800.1 644.8,796.5 646.5,804.1 648.2,814.1 649.9,811.7 651.6,811.0 653.3,809.7 655.0,815.7 656.7,825.0 658.4,819.0 660.1,833.8 661.8,835.2 663.5,826.7 665.2,814.0 666.9,822.9 668.6,832.3 670.3,822.4 672.0,822.3 673.7,826.9 675.4,842.6 677.1,824.8 678.8,816.9 680.5,830.1 682.2,831.1 683.9,833.4 685.6,829.7 687.3,831.4 689.0,826.8 690.7,835.6 692.4,830.3 694.1,833.4 695.8,826.5 697.5,839.1 699.2,832.7 700.9,828.9 702.6,832.0 704.3,825.7 706.0,828.8 707.7,837.5 709.4,836.5 711.1,838.0 712.8,837.7 714.5,831.9 716.2,834.4 717.9,844.9 719.6,833.4 721.3,825.5 723.0,834.4 724.7,832.0 726.4,833.9 728.1,834.6 729.8,828.8 731.5,837.4 733.2,834.0 734.9,838.6 736.6,831.4 738.3,830.0 740.0,833.5 741.7,845.6 743.4,825.6 745.1,842.5 746.8,835.7 748.5,842.6 750.2,833.5 751.9,838.5 753.6,838.7 755.3,848.6 757.0,835.5 758.7,837.3 760.4,831.8 762.1,837.8 763.8,832.1 765.5,835.5 767.2,838.5 768.9,839.4 770.6,830.8 772.3,830.9 774.0,842.7 775.7,833.1 777.4,837.4 779.1,834.7 780.8,827.3 782.5,835.8 784.2,835.8 785.9,846.6 787.6,825.4 789.3,833.5 791.0,840.4 792.7,833.7 794.4,824.5 796.1,840.8 797.8,838.5 799.5,832.5 801.2,831.4 802.9,833.1 804.6,838.3 806.3,836.1 808.0,833.3 809.7,839.0 811.4,843.1 813.1,833.7 814.8,846.1 816.5,837.5 818.2,840.8 819.9,840.0 821.6,840.4 823.3,838.7 825.0,824.3 826.7,832.1 828.4,842.7 830.1,831.7 831.8,838.2 833.5,828.3 835.2,833.8 836.9,846.1 838.6,838.7 840.3,832.0 842.0,833.2 843.7,827.0 845.4,839.3 847.1,835.0 848.8,840.9 850.5,841.2 852.2,834.8 853.9,830.8 855.6,829.3 857.3,834.2 859.0,836.4 860.7,844.4 862.4,830.8 864.1,838.9 865.8,830.1 867.5,833.2 869.2,840.8 870.9,839.3 872.6,833.4 874.3,832.7 876.0,842.7 877.7,835.0 879.4,834.4 881.1,830.2 882.8,850.5 884.5,846.6 886.2,839.2 887.9,849.1 889.6,839.2 891.3,834.4 893.0,839.4 894.7,844.5 896.4,829.7 898.1,843.2 899.8,842.5 901.5,844.4 903.2,838.6 904.9,842.2 906.6,825.7 908.3,835.1 910.0,841.5 911.7,838.7 913.4,836.8 915.1,827.9 916.8,834.1 918.5,825.1 920.2,833.3 921.9,836.4 923.6,831.4 925.3,837.1 927.0,834.5 928.7,839.5 930.4,832.1 932.1,824.7 933.8,827.0 935.5,830.2 937.2,834.8 938.9,835.4 940.6,830.7 942.3,836.1 944.0,831.8 945.7,839.6 947.4,828.5 949.1,843.2 950.8,838.3 952.5,834.6 954.2,831.2 955.9,840.8 957.6,834.3 959.3,841.5 961.0,848.7 962.7,839.2 964.4,839.9 966.1,841.7 967.8,835.7 969.5,850.0 971.2,837.7 972.9,843.2 974.6,841.6 976.3,836.9 978.0,848.3 979.7,842.9 981.4,837.0 983.1,837.1 984.8,830.0 986.5,835.2 988.2,846.1 989.9,846.3 991.6,836.2 993.3,845.3 995.0,847.2 996.7,846.2 998.4,849.1 1000.1,831.0 1001.8,843.4 1003.5,837.4 1005.2,847.1 1006.9,839.3 1008.6,844.5 1010.3,849.2 1012.0,835.0 1013.7,840.5 1015.4,840.4 1017.1,844.4 1018.8,835.7 1020.5,848.8 1022.2,855.6 1023.9,842.8 1025.6,847.4 1027.3,829.1 1029.0,837.5 1030.7,848.1 1032.4,846.2 1034.1,848.4 1035.8,852.0 1037.5,844.6 1039.2,842.2 1040.9,840.9 1042.6,844.0 1044.3,831.1 1046.0,851.8 1047.7,830.8 1049.4,834.1 1051.1,843.6 1052.8,848.4 1054.5,846.3 1056.2,851.8 1057.9,840.7 1059.6,839.3 1061.3,846.2 1063.0,836.8 1064.7,844.9 1066.4,846.6 1068.1,845.4 1069.8,831.5 1071.5,842.4 1073.2,831.9 1074.9,848.8 1076.6,841.1 1078.3,849.4 1080.0,851.2 1081.7,835.6 1083.4,848.7 1085.1,845.8 1086.8,852.3 1088.5,836.2 1090.2,836.2 1091.9,839.1 1093.6,832.9 1095.3,844.2 1097.0,839.5 1098.7,844.8 1100.4,845.6 1102.1,848.6 1103.8,836.3 1105.5,847.8 1107.2,847.7 1108.9,837.4 1110.6,839.5 1112.3,834.7 1114.0,850.2 1115.7,850.8 1117.4,838.0 1119.1,842.3 1120.8,845.1 1122.5,847.0 1124.2,842.6 1125.9,852.5 1127.6,837.7 1129.3,848.0 1131.0,843.3 1132.7,844.5 1134.4,838.6 1136.1,832.9 1137.8,839.8 1139.5,845.6 1141.2,838.3 1142.9,833.1 1144.6,841.9 1146.3,842.7 1148.0,837.3 1149.7,842.5 1151.4,845.7 1153.1,844.6 1154.8,848.8 1156.5,850.2 1158.2,843.0 1159.9,838.7 1161.6,833.2 1163.3,849.0 1165.0,845.2 1166.7,848.8 1168.4,838.2 1170.1,843.7 1171.8,838.6 1173.5,837.8 1175.2,834.8 1176.9,841.8 1178.6,845.8 1180.3,847.4 1182.0,844.2 1183.7,841.3 1185.4,854.7 1187.1,852.0 1188.8,848.8 1190.5,843.9 1192.2,850.4 1193.9,838.7 1195.6,836.2 1197.3,847.4 1199.0,844.8 1200.7,850.0 1202.4,839.6 1204.1,845.7 1205.8,837.9 1207.5,841.8 1209.2,846.5 1210.9,843.6 1212.6,838.5 1214.3,835.5 1216.0,842.1 1217.7,838.9 1219.4,836.1 1221.1,844.9 1222.8,839.2 1224.5,851.9 1226.2,856.5 1227.9,851.0 1229.6,860.7 1231.3,837.7 1233.0,835.0 1234.7,843.9 1236.4,834.4 1238.1,845.3 1239.8,849.6 1241.5,849.1 1243.2,850.3 1244.9,843.5 1246.6,844.4 1248.3,846.1 1250.0,844.3 1251.7,849.9 1253.4,842.0 1255.1,844.1 1256.8,840.6 1258.5,850.3 1260.2,845.6 1261.9,845.6 1263.6,842.0 1265.3,834.6 1267.0,842.0 1268.7,832.1 1270.4,844.3 1272.1,837.4 1273.8,852.1 1275.5,840.9 1277.2,844.1 1278.9,841.7 1280.6,838.0 1282.3,835.7 1284.0,830.2 1285.7,841.3 1287.4,833.2 1289.1,851.3 1290.8,837.5 1292.5,841.5 1294.2,844.7 1295.9,843.9 1297.6,851.4 1299.3,844.2 1301.0,841.6 1302.7,843.4 1304.4,853.1 1306.1,848.8 1307.8,833.1 1309.5,843.4 1311.2,839.2 1312.9,844.5 1314.6,848.0 1316.3,844.2 1318.0,847.3 1319.7,853.5 1321.4,833.6 1323.1,843.0 1324.8,843.4 1326.5,845.7 1328.2,843.5 1329.9,848.1 1331.6,842.3 1333.3,844.8 1335.0,833.4 1336.7,843.3 1338.4,835.1 1340.1,845.2 1341.8,852.0 1343.5,841.0 1345.2,843.8 1346.9,845.5 1348.6,848.9 1350.3,845.6 1352.0,848.0 1353.7,837.5 1355.4,839.7 1357.1,831.3 1358.8,851.7 1360.5,831.4 1362.2,843.0 1363.9,838.0 1365.6,837.2 1367.3,829.0 1369.0,834.4 1370.7,834.0 1372.4,834.4 1374.1,828.7 1375.8,830.2 1377.5,821.5 1379.2,831.8 1380.9,818.5 1382.6,840.3 1384.3,814.6 1386.0,809.3 1387.7,810.2 1389.4,803.9 1391.1,806.6 1392.8,803.0 1394.5,787.9 1396.2,783.8 1397.9,779.8 1399.6,784.1 1401.3,785.7 1403.0,783.9 1404.7,781.0 1406.4,784.4 1408.1,791.5 1409.8,799.0 1411.5,796.0 1413.2,807.5 1414.9,803.1 1416.6,810.5 1418.3,819.8 1420.0,811.8 1421.7,810.1 1423.4,816.3 1425.1,824.5 1426.8,821.7 1428.5,828.7 1430.2,839.0 1431.9,830.7 1433.6,841.6 1435.3,840.0 1437.0,829.6 1438.7,842.2 1440.4,842.2 1442.1,843.7 1443.8,840.0 1445.5,841.1 1447.2,836.9 1448.9,835.5 1450.6,840.7 1452.3,845.4 1454.0,838.0 1455.7,851.0 1457.4,839.5 1459.1,844.2 1460.8,835.0 1462.5,852.0 1464.2,847.5 1465.9,850.8 1467.6,836.5 1469.3,852.0 1471.0,846.9 1472.7,840.7 1474.4,842.4 1476.1,836.1 1477.8,843.8 1479.5,850.3 1481.2,840.4 1482.9,847.7 1484.6,838.8 1486.3,830.3 1488.0,844.6 1489.7,854.2 1491.4,852.7 1493.1,842.0 1494.8,853.1 1496.5,852.0 1498.2,848.2 1499.9,844.1 1501.6,851.9 1503.3,845.7 1505.0,843.8 1506.7,852.2 1508.4,842.4 1510.1,850.8 1511.8,855.5 1513.5,842.8 1515.2,847.9 1516.9,850.3 1518.6,836.9 1520.3,844.3 1522.0,844.1 1523.7,844.0 1525.4,842.0 1527.1,854.6 1528.8,841.7 1530.5,846.6 1532.2,850.8 1533.9,856.4 1535.6,838.6 1537.3,840.4 1539.0,842.1 1540.7,846.7 1542.4,854.0 1544.1,847.9 1545.8,849.5 1547.5,857.5 1549.2,846.6 1550.9,849.3 1552.6,859.7 1554.3,853.1 1556.0,845.2 1557.7,845.1 1559.4,855.3 1561.1,842.1 1562.8,843.4 1564.5,853.2 1566.2,856.2 1567.9,858.2 1569.6,843.0 1571.3,851.4 1573.0,829.2 1574.7,843.8 1576.4,865.7 1578.1,857.9 1579.8,853.1 1581.5,843.6 1583.2,841.6 1584.9,855.2 1586.6,847.7 1588.3,843.8 1590.0,852.7 1591.7,852.5 1593.4,844.8 1595.1,846.4 1596.8,861.8 1598.5,843.2 1600.2,854.8 1601.9,844.9 1603.6,844.1 1605.3,842.8 1607.0,848.6 1608.7,849.0 1610.4,853.4 1612.1,844.5 1613.8,851.3 1615.5,845.9 1617.2,844.8 1618.9,852.7 1620.6,851.5 1622.3,840.0 1624.0,849.5 1625.7,838.1 1627.4,842.8 1629.1,858.3 1630.8,856.9 1632.5,848.2 1634.2,852.6 1635.9,856.5 1637.6,858.9 1639.3,858.7 1641.0,844.2 1642.7,848.1 1644.4,848.9 1646.1,834.2 1647.8,843.7 1649.5,850.5 1651.2,847.0 1652.9,845.0 1654.6,841.7 1656.3,845.0 1658.0,848.2 1659.7,846.5 1661.4,855.0 1663.1,853.4 1664.8,841.2 1666.5,854.3 1668.2,849.1 1669.9,853.4 1671.6,845.1 1673.3,854.4 1675.0,845.0 1676.7,855.1 1678.4,849.0 1680.1,847.6 1681.8,841.4 1683.5,839.5 1685.2,853.7 1686.9,842.2 1688.6,841.7 1690.3,850.9 1692.0,848.6 1693.7,851.8 1695.4,840.6 1697.1,835.7 1698.8,842.6 1700.5,853.7 1702.2,848.0 1703.9,850.9 1705.6,851.4 1707.3,849.4 1709.0,849.2 1710.7,847.2 1712.4,849.6 1714.1,850.5 1715.8,844.8 1717.5,851.8 1719.2,848.2 1720.9,847.6 1722.6,847.3 1724.3,853.5 1726.0,847.7 1727.7,855.2 1729.4,842.4 1731.1,851.6 1732.8,839.1 1734.5,848.1 1736.2,845.1 1737.9,845.3 1739.6,841.9 1741.3,847.8 1743.0,851.0 1744.7,837.3 1746.4,847.1 1748.1,848.9 1749.8,851.3 1751.5,849.9 1753.2,841.5 1754.9,853.4 1756.6,842.8 1758.3,850.4 1760.0,848.5 1761.7,844.0 1763.4,842.1 1765.1,846.0 1766.8,855.5 1768.5,850.7 1770.2,843.6 1771.9,851.0 1773.6,856.6 1775.3,859.5 1777.0,837.2 1778.7,851.2 1780.4,851.7 1782.1,842.1 1783.8,835.8 1785.5,853.8 1787.2,843.6 1788.9,837.2 1790.6,840.3 1792.3,851.0 1794.0,859.6 1795.7,852.5 1797.4,842.4 1799.1,855.1 1800.8,836.9 1802.5,853.5 1804.2,852.9 1805.9,857.7 1807.6,853.2 1809.3,854.3 1811.0,848.2 1812.7,845.9 1814.4,847.9 1816.1,859.0 1817.8,844.5 1819.5,847.6 1821.2,845.4 1822.9,852.2 1824.6,850.8 1826.3,859.8 1828.0,860.6 1829.7,854.9 1831.4,853.4 1833.1,847.3 1834.8,839.6 1836.5,849.4 1838.2,848.7 1839.9,841.9 1841.6,849.7 1843.3,854.2 1845.0,843.4 1846.7,853.8 1848.4,850.9 1850.1,845.5 1851.8,849.6 1853.5,853.1 1855.2,847.8 1856.9,848.6 1858.6,856.7 1860.3,852.5 1862.0,852.7 1863.7,846.5 1865.4,853.6 1867.1,858.2 1868.8,844.1 1870.5,840.1 1872.2,845.2 1873.9,849.1 1875.6,843.9 1877.3,839.7 1879.0,859.1 1880.7,847.0 1882.4,845.0 1884.1,833.2 1885.8,855.3 1887.5,841.2 1889.2,858.2 1890.9,853.7 1892.6,851.7 1894.3,849.0 1896.0,855.7 1897.7,846.4 1899.4,851.8 1901.1,846.4 1902.8,847.7 1904.5,858.7 1906.2,855.8 1907.9,844.1 1909.6,844.4 1911.3,849.9 1913.0,849.0 1914.7,852.5 1916.4,847.5 1918.1,843.5 1919.8,854.4 1921.5,848.2 1923.2,853.5 1924.9,844.2 1926.6,858.6 1928.3,851.3 1930.0,851.2 1931.7,851.7 1933.4,840.4 1935.1,853.9 1936.8,846.7 1938.5,842.9 1940.2,851.8 1941.9,859.5 1943.6,845.3 1945.3,858.2 1947.0,836.3 1948.7,850.8 1950.4,845.6 1952.1,850.3 1953.8,861.3 1955.5,852.5 1957.2,839.7 1958.9,856.6 1960.6,841.6 1962.3,844.3 1964.0,842.1 1965.7,848.1 1967.4,846.4 1969.1,856.6 1970.8,848.9 1972.5,851.0 1974.2,845.8 1975.9,853.0 1977.6,840.4 1979.3,838.1 1981.0,851.6 1982.7,850.5 1984.4,845.9 1986.1,858.7 1987.8,839.8 1989.5,853.1 1991.2,853.2 1992.9,836.6 1994.6,847.0 1996.3,847.9 1998.0,841.8 1999.7,841.4 2001.4,841.4 2003.1,836.1 2004.8,832.4 2006.5,844.3 2008.2,840.4 2009.9,838.5 2011.6,840.6 2013.3,831.4 2015.0,831.3 2016.7,838.6 2018.4,832.5 2020.1,833.6 2021.8,835.6 2023.5,837.8 2025.2,820.2 2026.9,820.1 2028.6,812.8 2030.3,814.6 2032.0,818.9 2033.7,809.8 2035.4,822.7 2037.1,803.7 2038.8,791.9 2040.5,793.5 2042.2,807.1 2043.9,786.0 2045.6,787.2 2047.3,779.6 2049.0,774.9 2050.7,785.8 2052.4,770.2 2054.1,765.8 2055.8,771.9 2057.5,773.5 2059.2,781.7 2060.9,782.3 2062.6,791.8 2064.3,786.7 2066.0,794.2 2067.7,798.5 2069.4,805.4 2071.1,796.0 2072.8,805.0 2074.5,794.3 2076.2,808.8 2077.9,809.3 2079.6,813.9 2081.3,830.4 2083.0,829.6 2084.7,816.9 2086.4,838.4 2088.1,837.2 2089.8,832.5 2091.5,832.3 2093.2,833.6 2094.9,835.2 2096.6,840.4 2098.3,836.3 2100.0,844.7 2101.7,837.9 2103.4,836.4 2105.1,840.3 2106.8,843.7 2108.5,845.0 2110.2,842.8 2111.9,834.4 2113.6,835.8 2115.3,834.2 2117.0,843.0 2118.7,849.1 2120.4,845.5 2122.1,845.6 2123.8,843.3 2125.5,844.3 2127.2,842.8 2128.9,853.3 2130.6,840.0 2132.3,842.4 2134.0,850.5 2135.7,845.7 2137.4,851.6 2139.1,845.5 2140.8,850.9 2142.5,850.0 2144.2,841.3 2145.9,852.1 2147.6,856.5 2149.3,845.4 2151.0,848.5 2152.7,853.0 2154.4,858.4" fill="none" stroke="#26d426" stroke-width="5.4" stroke-linejoin="round"/>
<polyline points="425.5,907.6 427.2,916.0 428.9,907.5 430.6,907.6 432.3,908.0 434.0,906.0 435.7,904.8 437.4,906.3 439.1,910.0 440.8,907.7 442.5,916.7 444.2,910.3 445.9,909.5 447.6,909.1 449.3,913.5 451.0,912.2 452.7,913.5 454.4,915.6 456.1,918.4 457.8,909.2 459.5,915.6 461.2,913.1 462.9,914.3 464.6,911.3 466.3,916.1 468.0,916.1 469.7,915.4 471.4,911.4 473.1,916.9 474.8,910.7 476.5,908.5 478.2,917.2 479.9,913.9 481.6,908.7 483.3,912.0 485.0,914.7 486.7,918.3 488.4,913.7 490.1,911.6 491.8,910.8 493.5,909.8 495.2,914.5 496.9,912.2 498.6,917.9 500.3,912.5 502.0,919.2 503.7,914.2 505.4,914.8 507.1,914.1 508.8,913.5 510.5,919.7 512.2,910.3 513.9,910.6 515.6,911.3 517.3,914.2 519.0,907.5 520.7,916.0 522.4,906.2 524.1,906.8 525.8,908.4 527.5,908.0 529.2,903.0 530.9,908.7 532.6,911.3 534.3,903.5 536.0,905.5 537.7,904.0 539.4,909.7 541.1,899.3 542.8,899.1 544.5,895.0 546.2,895.7 547.9,891.8 549.6,889.6 551.3,888.0 553.0,890.2 554.7,883.4 556.4,885.9 558.1,879.9 559.8,882.4 561.5,871.1 563.2,869.0 564.9,872.9 566.6,873.6 568.3,863.5 570.0,854.2 571.7,862.5 573.4,856.2 575.1,847.8 576.8,850.1 578.5,843.3 580.2,829.1 581.9,819.7 583.6,809.7 585.3,793.0 587.0,773.0 588.7,743.4 590.4,712.2 592.1,665.8 593.8,616.4 595.5,562.1 597.2,502.5 598.9,442.7 600.6,385.2 602.3,341.9 604.0,316.3 605.7,315.8 607.4,338.0 609.1,381.3 610.8,439.1 612.5,502.5 614.2,564.5 615.9,624.7 617.6,677.4 619.3,722.5 621.0,757.3 622.7,792.6 624.4,812.2 626.1,826.4 627.8,848.0 629.5,863.5 631.2,868.2 632.9,869.3 634.6,879.1 636.3,889.0 638.0,889.1 639.7,891.4 641.4,890.3 643.1,897.4 644.8,897.3 646.5,907.3 648.2,904.6 649.9,908.0 651.6,900.2 653.3,907.8 655.0,912.4 656.7,916.7 658.4,916.1 660.1,909.2 661.8,923.9 663.5,913.0 665.2,913.2 666.9,913.6 668.6,911.0 670.3,914.3 672.0,913.6 673.7,915.0 675.4,914.6 677.1,916.2 678.8,920.4 680.5,915.9 682.2,914.3 683.9,921.3 685.6,919.3 687.3,922.1 689.0,916.2 690.7,919.5 692.4,917.2 694.1,915.7 695.8,919.0 697.5,920.6 699.2,922.3 700.9,916.9 702.6,924.5 704.3,925.6 706.0,923.1 707.7,920.4 709.4,918.7 711.1,925.8 712.8,919.5 714.5,927.6 716.2,916.3 717.9,916.1 719.6,924.7 721.3,918.5 723.0,927.2 724.7,921.6 726.4,921.6 728.1,924.7 729.8,927.9 731.5,926.8 733.2,923.1 734.9,922.4 736.6,926.8 738.3,920.9 740.0,920.2 741.7,920.3 743.4,935.9 745.1,929.2 746.8,925.7 748.5,922.5 750.2,925.7 751.9,917.6 753.6,922.8 755.3,927.2 757.0,924.4 758.7,919.4 760.4,923.6 762.1,923.0 763.8,928.8 765.5,927.0 767.2,924.5 768.9,932.1 770.6,922.2 772.3,928.4 774.0,925.7 775.7,923.5 777.4,921.9 779.1,925.8 780.8,929.3 782.5,917.2 784.2,923.6 785.9,926.7 787.6,920.5 789.3,920.8 791.0,929.0 792.7,922.7 794.4,922.2 796.1,925.2 797.8,924.5 799.5,925.4 801.2,925.3 802.9,928.6 804.6,924.6 806.3,926.6 808.0,920.0 809.7,923.8 811.4,921.4 813.1,928.5 814.8,924.1 816.5,927.3 818.2,921.9 819.9,919.3 821.6,926.0 823.3,922.6 825.0,917.6 826.7,922.2 828.4,920.6 830.1,929.0 831.8,923.4 833.5,926.7 835.2,926.3 836.9,929.5 838.6,926.9 840.3,927.2 842.0,927.1 843.7,920.7 845.4,925.6 847.1,921.0 848.8,921.0 850.5,925.8 852.2,919.1 853.9,925.0 855.6,929.8 857.3,925.9 859.0,929.0 860.7,922.4 862.4,926.4 864.1,917.3 865.8,922.9 867.5,924.5 869.2,934.0 870.9,934.9 872.6,920.3 874.3,926.3 876.0,925.2 877.7,934.0 879.4,931.4 881.1,926.9 882.8,931.5 884.5,933.2 886.2,926.6 887.9,932.7 889.6,931.1 891.3,932.0 893.0,922.9 894.7,929.0 896.4,920.4 898.1,930.4 899.8,926.4 901.5,934.6 903.2,934.9 904.9,922.9 906.6,934.9 908.3,927.6 910.0,933.2 911.7,929.9 913.4,927.9 915.1,928.5 916.8,928.0 918.5,935.1 920.2,930.1 921.9,925.9 923.6,932.5 925.3,928.2 927.0,932.3 928.7,927.4 930.4,931.8 932.1,926.6 933.8,926.9 935.5,931.2 937.2,933.2 938.9,930.4 940.6,929.7 942.3,939.8 944.0,929.4 945.7,920.2 947.4,932.6 949.1,928.4 950.8,925.1 952.5,934.7 954.2,934.1 955.9,929.4 957.6,928.8 959.3,930.7 961.0,934.8 962.7,927.2 964.4,936.1 966.1,931.7 967.8,932.7 969.5,937.1 971.2,930.1 972.9,933.6 974.6,931.3 976.3,920.0 978.0,930.7 979.7,931.4 981.4,930.8 983.1,936.2 984.8,929.4 986.5,933.4 988.2,932.6 989.9,933.2 991.6,925.1 993.3,929.9 995.0,929.8 996.7,937.8 998.4,930.3 1000.1,934.2 1001.8,932.7 1003.5,926.6 1005.2,927.7 1006.9,933.4 1008.6,935.1 1010.3,938.5 1012.0,931.6 1013.7,927.8 1015.4,932.3 1017.1,927.4 1018.8,937.7 1020.5,931.3 1022.2,932.3 1023.9,939.7 1025.6,934.3 1027.3,927.6 1029.0,934.2 1030.7,930.0 1032.4,927.5 1034.1,929.3 1035.8,927.3 1037.5,934.6 1039.2,929.4 1040.9,930.9 1042.6,936.3 1044.3,931.5 1046.0,930.5 1047.7,932.7 1049.4,929.8 1051.1,932.2 1052.8,931.1 1054.5,935.4 1056.2,930.8 1057.9,928.7 1059.6,930.4 1061.3,923.6 1063.0,931.4 1064.7,935.0 1066.4,939.0 1068.1,933.1 1069.8,936.2 1071.5,924.3 1073.2,936.5 1074.9,933.4 1076.6,936.3 1078.3,929.3 1080.0,932.7 1081.7,931.9 1083.4,929.1 1085.1,930.4 1086.8,936.5 1088.5,925.1 1090.2,929.7 1091.9,932.7 1093.6,936.2 1095.3,926.6 1097.0,925.7 1098.7,923.3 1100.4,932.2 1102.1,930.2 1103.8,930.9 1105.5,930.7 1107.2,924.5 1108.9,935.1 1110.6,934.8 1112.3,925.9 1114.0,928.1 1115.7,927.1 1117.4,927.8 1119.1,937.5 1120.8,934.1 1122.5,926.3 1124.2,937.9 1125.9,931.9 1127.6,930.6 1129.3,926.9 1131.0,927.1 1132.7,929.3 1134.4,941.2 1136.1,926.1 1137.8,927.4 1139.5,933.4 1141.2,930.5 1142.9,927.0 1144.6,940.2 1146.3,929.0 1148.0,927.6 1149.7,929.0 1151.4,931.8 1153.1,932.1 1154.8,933.2 1156.5,930.6 1158.2,927.7 1159.9,934.8 1161.6,929.1 1163.3,927.3 1165.0,932.1 1166.7,934.1 1168.4,928.0 1170.1,927.9 1171.8,929.3 1173.5,927.2 1175.2,928.7 1176.9,932.5 1178.6,932.1 1180.3,920.6 1182.0,935.8 1183.7,935.4 1185.4,926.1 1187.1,935.9 1188.8,925.2 1190.5,935.8 1192.2,928.3 1193.9,932.2 1195.6,931.0 1197.3,932.3 1199.0,924.7 1200.7,935.3 1202.4,932.4 1204.1,930.3 1205.8,934.3 1207.5,929.2 1209.2,937.2 1210.9,934.6 1212.6,936.9 1214.3,926.3 1216.0,930.0 1217.7,922.0 1219.4,929.9 1221.1,926.3 1222.8,925.9 1224.5,932.5 1226.2,928.5 1227.9,933.1 1229.6,924.5 1231.3,925.8 1233.0,929.9 1234.7,919.9 1236.4,924.0 1238.1,928.0 1239.8,920.6 1241.5,930.0 1243.2,924.6 1244.9,931.7 1246.6,926.3 1248.3,934.8 1250.0,922.6 1251.7,934.4 1253.4,923.9 1255.1,935.2 1256.8,929.5 1258.5,922.3 1260.2,931.8 1261.9,927.2 1263.6,928.7 1265.3,929.3 1267.0,932.8 1268.7,927.8 1270.4,931.5 1272.1,924.9 1273.8,926.6 1275.5,930.4 1277.2,933.5 1278.9,928.8 1280.6,927.8 1282.3,930.5 1284.0,930.8 1285.7,925.4 1287.4,940.5 1289.1,927.3 1290.8,924.1 1292.5,929.1 1294.2,930.7 1295.9,929.2 1297.6,927.0 1299.3,929.4 1301.0,931.8 1302.7,927.3 1304.4,926.3 1306.1,930.5 1307.8,930.7 1309.5,925.7 1311.2,939.4 1312.9,933.9 1314.6,936.8 1316.3,934.6 1318.0,924.8 1319.7,938.7 1321.4,924.3 1323.1,926.9 1324.8,931.8 1326.5,928.2 1328.2,934.0 1329.9,934.6 1331.6,930.9 1333.3,937.8 1335.0,925.2 1336.7,933.2 1338.4,934.1 1340.1,939.0 1341.8,934.8 1343.5,924.9 1345.2,933.5 1346.9,929.6 1348.6,931.3 1350.3,932.5 1352.0,934.7 1353.7,928.0 1355.4,931.4 1357.1,933.2 1358.8,932.2 1360.5,931.7 1362.2,922.0 1363.9,929.0 1365.6,930.5 1367.3,924.0 1369.0,925.8 1370.7,921.5 1372.4,924.1 1374.1,921.5 1375.8,915.4 1377.5,919.2 1379.2,916.9 1380.9,908.3 1382.6,910.5 1384.3,908.2 1386.0,903.1 1387.7,911.1 1389.4,903.9 1391.1,907.6 1392.8,900.3 1394.5,909.3 1396.2,906.9 1397.9,915.6 1399.6,915.2 1401.3,922.1 1403.0,927.0 1404.7,915.5 1406.4,924.1 1408.1,924.4 1409.8,924.1 1411.5,924.5 1413.2,928.2 1414.9,931.9 1416.6,932.7 1418.3,935.0 1420.0,931.4 1421.7,935.9 1423.4,935.2 1425.1,936.7 1426.8,936.7 1428.5,935.7 1430.2,937.1 1431.9,931.2 1433.6,925.9 1435.3,929.2 1437.0,936.0 1438.7,934.5 1440.4,932.8 1442.1,939.8 1443.8,937.4 1445.5,941.0 1447.2,930.2 1448.9,932.6 1450.6,936.4 1452.3,938.3 1454.0,940.6 1455.7,936.3 1457.4,941.1 1459.1,940.3 1460.8,936.1 1462.5,941.1 1464.2,937.4 1465.9,938.1 1467.6,932.0 1469.3,932.9 1471.0,933.5 1472.7,937.3 1474.4,931.8 1476.1,929.3 1477.8,935.4 1479.5,946.2 1481.2,936.3 1482.9,931.9 1484.6,934.1 1486.3,937.9 1488.0,940.3 1489.7,937.8 1491.4,943.4 1493.1,939.7 1494.8,932.8 1496.5,941.2 1498.2,934.3 1499.9,941.2 1501.6,937.2 1503.3,928.4 1505.0,928.7 1506.7,935.7 1508.4,936.9 1510.1,940.9 1511.8,938.8 1513.5,942.5 1515.2,939.8 1516.9,937.2 1518.6,933.2 1520.3,942.8 1522.0,941.3 1523.7,940.9 1525.4,933.8 1527.1,941.2 1528.8,929.5 1530.5,938.7 1532.2,936.4 1533.9,936.3 1535.6,924.9 1537.3,944.2 1539.0,932.0 1540.7,932.8 1542.4,934.0 1544.1,933.1 1545.8,928.1 1547.5,938.2 1549.2,934.5 1550.9,936.3 1552.6,929.2 1554.3,936.7 1556.0,935.2 1557.7,940.6 1559.4,932.0 1561.1,926.5 1562.8,934.5 1564.5,935.4 1566.2,938.4 1567.9,936.2 1569.6,930.1 1571.3,933.7 1573.0,928.9 1574.7,935.5 1576.4,944.1 1578.1,928.8 1579.8,927.3 1581.5,927.1 1583.2,931.3 1584.9,934.0 1586.6,931.1 1588.3,924.7 1590.0,932.5 1591.7,934.1 1593.4,937.0 1595.1,933.4 1596.8,924.9 1598.5,934.8 1600.2,929.2 1601.9,925.0 1603.6,930.3 1605.3,931.2 1607.0,931.8 1608.7,926.8 1610.4,928.5 1612.1,930.3 1613.8,931.5 1615.5,931.7 1617.2,924.4 1618.9,933.5 1620.6,923.9 1622.3,930.7 1624.0,929.1 1625.7,917.9 1627.4,925.7 1629.1,928.3 1630.8,929.9 1632.5,928.2 1634.2,930.7 1635.9,928.5 1637.6,927.5 1639.3,932.3 1641.0,943.9 1642.7,927.1 1644.4,927.8 1646.1,930.9 1647.8,925.8 1649.5,932.4 1651.2,928.9 1652.9,936.2 1654.6,924.7 1656.3,929.5 1658.0,925.5 1659.7,931.1 1661.4,926.8 1663.1,924.6 1664.8,926.1 1666.5,927.3 1668.2,930.3 1669.9,926.7 1671.6,933.1 1673.3,929.6 1675.0,929.9 1676.7,929.4 1678.4,930.8 1680.1,937.5 1681.8,926.9 1683.5,930.4 1685.2,931.4 1686.9,932.5 1688.6,928.6 1690.3,921.7 1692.0,933.8 1693.7,933.8 1695.4,935.1 1697.1,933.8 1698.8,927.2 1700.5,937.2 1702.2,931.1 1703.9,934.2 1705.6,940.6 1707.3,937.4 1709.0,929.5 1710.7,933.5 1712.4,938.9 1714.1,937.0 1715.8,932.8 1717.5,928.2 1719.2,930.2 1720.9,932.4 1722.6,934.5 1724.3,938.8 1726.0,938.5 1727.7,927.3 1729.4,932.1 1731.1,930.6 1732.8,931.1 1734.5,935.8 1736.2,933.3 1737.9,929.3 1739.6,939.7 1741.3,930.8 1743.0,929.3 1744.7,931.7 1746.4,940.9 1748.1,937.0 1749.8,931.6 1751.5,935.2 1753.2,930.4 1754.9,938.0 1756.6,935.6 1758.3,925.0 1760.0,935.1 1761.7,938.8 1763.4,928.9 1765.1,934.7 1766.8,932.8 1768.5,936.5 1770.2,928.8 1771.9,938.0 1773.6,933.3 1775.3,940.0 1777.0,937.6 1778.7,933.3 1780.4,930.3 1782.1,932.4 1783.8,940.1 1785.5,938.8 1787.2,936.4 1788.9,937.0 1790.6,934.9 1792.3,932.9 1794.0,934.0 1795.7,933.7 1797.4,931.8 1799.1,935.6 1800.8,942.8 1802.5,927.3 1804.2,936.7 1805.9,934.3 1807.6,929.7 1809.3,935.8 1811.0,943.0 1812.7,928.6 1814.4,934.6 1816.1,929.3 1817.8,938.7 1819.5,936.3 1821.2,934.8 1822.9,933.5 1824.6,937.7 1826.3,938.2 1828.0,930.0 1829.7,927.8 1831.4,933.3 1833.1,937.3 1834.8,933.4 1836.5,940.8 1838.2,934.3 1839.9,932.4 1841.6,935.6 1843.3,928.8 1845.0,930.6 1846.7,932.5 1848.4,931.7 1850.1,940.6 1851.8,937.9 1853.5,935.2 1855.2,932.5 1856.9,938.3 1858.6,938.8 1860.3,932.9 1862.0,928.3 1863.7,935.2 1865.4,932.6 1867.1,931.6 1868.8,933.3 1870.5,936.9 1872.2,932.3 1873.9,932.7 1875.6,931.0 1877.3,929.8 1879.0,928.7 1880.7,935.4 1882.4,933.0 1884.1,930.9 1885.8,931.7 1887.5,934.4 1889.2,935.3 1890.9,933.2 1892.6,933.5 1894.3,934.7 1896.0,929.7 1897.7,926.7 1899.4,941.0 1901.1,935.2 1902.8,938.8 1904.5,928.9 1906.2,933.4 1907.9,938.3 1909.6,938.9 1911.3,934.2 1913.0,937.3 1914.7,933.8 1916.4,929.1 1918.1,928.2 1919.8,926.6 1921.5,929.8 1923.2,936.2 1924.9,930.6 1926.6,939.3 1928.3,935.8 1930.0,934.9 1931.7,928.0 1933.4,930.9 1935.1,934.5 1936.8,928.4 1938.5,935.1 1940.2,936.1 1941.9,933.7 1943.6,925.7 1945.3,932.4 1947.0,926.2 1948.7,936.8 1950.4,928.4 1952.1,928.6 1953.8,931.1 1955.5,928.7 1957.2,934.2 1958.9,932.0 1960.6,938.2 1962.3,924.7 1964.0,930.7 1965.7,931.8 1967.4,930.0 1969.1,925.7 1970.8,925.7 1972.5,932.1 1974.2,927.3 1975.9,922.8 1977.6,924.8 1979.3,930.8 1981.0,932.0 1982.7,929.5 1984.4,932.2 1986.1,929.8 1987.8,930.5 1989.5,924.5 1991.2,926.4 1992.9,932.2 1994.6,930.0 1996.3,931.1 1998.0,932.5 1999.7,918.6 2001.4,930.2 2003.1,930.3 2004.8,927.7 2006.5,928.1 2008.2,922.1 2009.9,928.9 2011.6,928.2 2013.3,926.6 2015.0,927.9 2016.7,930.4 2018.4,924.8 2020.1,921.6 2021.8,922.9 2023.5,927.1 2025.2,924.3 2026.9,919.8 2028.6,918.9 2030.3,918.9 2032.0,911.1 2033.7,910.1 2035.4,912.8 2037.1,909.2 2038.8,902.2 2040.5,898.9 2042.2,892.9 2043.9,892.9 2045.6,880.0 2047.3,873.6 2049.0,863.6 2050.7,851.5 2052.4,838.8 2054.1,837.7 2055.8,846.1 2057.5,832.8 2059.2,840.1 2060.9,844.5 2062.6,857.3 2064.3,858.2 2066.0,864.1 2067.7,869.2 2069.4,890.4 2071.1,894.7 2072.8,888.7 2074.5,903.3 2076.2,903.5 2077.9,909.9 2079.6,910.4 2081.3,916.7 2083.0,923.9 2084.7,919.9 2086.4,921.9 2088.1,922.6 2089.8,921.4 2091.5,921.7 2093.2,927.4 2094.9,930.1 2096.6,927.6 2098.3,925.6 2100.0,928.4 2101.7,929.9 2103.4,927.6 2105.1,924.3 2106.8,930.4 2108.5,922.7 2110.2,930.5 2111.9,924.9 2113.6,924.9 2115.3,928.1 2117.0,926.0 2118.7,929.1 2120.4,930.4 2122.1,928.8 2123.8,931.3 2125.5,934.7 2127.2,930.1 2128.9,928.6 2130.6,931.7 2132.3,931.6 2134.0,924.7 2135.7,929.6 2137.4,926.3 2139.1,935.8 2140.8,926.3 2142.5,928.2 2144.2,930.7 2145.9,921.3 2147.6,923.0 2149.3,928.1 2151.0,929.3 2152.7,924.8 2154.4,930.3" fill="none" stroke="#10108c" stroke-width="5.4" stroke-linejoin="round"/>
<polyline points="425.5,1006.2 427.2,999.3 428.9,1007.7 430.6,1005.2 432.3,993.3 434.0,1010.2 435.7,999.3 437.4,1001.7 439.1,996.4 440.8,999.7 442.5,1017.1 444.2,1004.3 445.9,984.7 447.6,1013.3 449.3,1005.6 451.0,1001.2 452.7,1008.1 454.4,1006.6 456.1,1001.2 457.8,1013.1 459.5,1008.2 461.2,1011.4 462.9,1006.6 464.6,1005.8 466.3,1007.0 468.0,1001.3 469.7,1002.2 471.4,1011.5 473.1,1006.6 474.8,1010.5 476.5,1007.6 478.2,1005.2 479.9,1013.6 481.6,1005.1 483.3,1003.3 485.0,1008.4 486.7,1014.1 488.4,1014.2 490.1,1003.4 491.8,1004.2 493.5,1006.7 495.2,1003.9 496.9,1008.9 498.6,1013.2 500.3,1006.6 502.0,998.6 503.7,998.0 505.4,998.9 507.1,1005.0 508.8,1009.7 510.5,998.4 512.2,1008.8 513.9,1010.1 515.6,1019.7 517.3,1000.7 519.0,1007.0 520.7,1010.3 522.4,1008.8 524.1,1010.8 525.8,1008.1 527.5,1009.9 529.2,1005.0 530.9,1005.1 532.6,996.0 534.3,1016.0 536.0,997.9 537.7,1005.9 539.4,1005.5 541.1,999.9 542.8,995.5 544.5,1004.7 546.2,994.1 547.9,1008.6 549.6,1016.7 551.3,1009.1 553.0,987.4 554.7,1003.3 556.4,1000.7 558.1,998.6 559.8,1003.6 561.5,995.2 563.2,999.6 564.9,991.8 566.6,988.4 568.3,996.0 570.0,996.7 571.7,986.3 573.4,996.3 575.1,984.7 576.8,978.1 578.5,976.3 580.2,974.1 581.9,977.3 583.6,973.5 585.3,965.7 587.0,967.3 588.7,950.0 590.4,949.7 592.1,939.9 593.8,917.6 595.5,913.6 597.2,890.9 598.9,873.0 600.6,833.0 602.3,797.3 604.0,745.0 605.7,682.5 607.4,623.5 609.1,554.2 610.8,487.3 612.5,429.0 614.2,390.9 615.9,373.3 617.6,388.5 619.3,427.5 621.0,484.6 622.7,550.9 624.4,621.4 626.1,685.9 627.8,741.9 629.5,796.9 631.2,839.4 632.9,871.2 634.6,890.6 636.3,920.1 638.0,931.8 639.7,948.9 641.4,952.5 643.1,957.9 644.8,966.0 646.5,971.2 648.2,987.1 649.9,973.7 651.6,974.2 653.3,983.7 655.0,986.2 656.7,978.6 658.4,981.1 660.1,986.9 661.8,991.5 663.5,992.3 665.2,999.5 666.9,995.8 668.6,992.6 670.3,996.8 672.0,999.4 673.7,1001.6 675.4,983.3 677.1,999.7 678.8,1001.6 680.5,1008.0 682.2,998.4 683.9,1001.6 685.6,992.6 687.3,1006.1 689.0,1007.5 690.7,997.4 692.4,1003.1 694.1,1000.1 695.8,1008.5 697.5,1001.4 699.2,1003.6 700.9,1003.6 702.6,1000.5 704.3,1004.1 706.0,1012.1 707.7,1003.2 709.4,999.5 711.1,1010.2 712.8,1014.4 714.5,1009.2 716.2,1004.3 717.9,1004.2 719.6,1007.8 721.3,1010.2 723.0,1020.3 724.7,1017.6 726.4,999.2 728.1,1009.6 729.8,1013.2 731.5,1009.2 733.2,1005.3 734.9,1002.6 736.6,1009.7 738.3,1010.1 740.0,1008.1 741.7,1001.3 743.4,995.8 745.1,1015.4 746.8,1001.1 748.5,1005.6 750.2,998.7 751.9,1011.6 753.6,1004.0 755.3,1007.1 757.0,1020.4 758.7,1012.3 760.4,1008.5 762.1,996.9 763.8,1012.2 765.5,1012.4 767.2,1013.5 768.9,1008.8 770.6,1000.1 772.3,1004.1 774.0,1012.9 775.7,1012.4 777.4,1011.2 779.1,1020.0 780.8,1013.8 782.5,1009.1 784.2,1009.5 785.9,998.5 787.6,1005.1 789.3,1013.5 791.0,998.7 792.7,1010.2 794.4,1013.6 796.1,1006.8 797.8,1011.7 799.5,1002.9 801.2,1017.8 802.9,1006.0 804.6,995.6 806.3,1010.4 808.0,1005.1 809.7,1016.9 811.4,1011.6 813.1,1005.7 814.8,1016.4 816.5,1005.8 818.2,1000.5 819.9,1014.0 821.6,1015.6 823.3,1006.3 825.0,1013.2 826.7,1017.4 828.4,1003.5 830.1,990.0 831.8,1009.9 833.5,1005.0 835.2,1011.5 836.9,1007.3 838.6,1003.8 840.3,1000.4 842.0,999.5 843.7,1003.0 845.4,1001.1 847.1,1010.8 848.8,1010.2 850.5,1002.9 852.2,1013.2 853.9,1004.3 855.6,1003.6 857.3,1011.3 859.0,1008.2 860.7,1003.4 862.4,1011.6 864.1,1016.5 865.8,1000.1 867.5,1006.3 869.2,996.2 870.9,1007.8 872.6,1022.5 874.3,1010.3 876.0,1008.2 877.7,1010.0 879.4,1003.7 881.1,1010.6 882.8,1007.6 884.5,1005.3 886.2,1015.0 887.9,1009.1 889.6,1011.9 891.3,1007.1 893.0,1011.8 894.7,1014.0 896.4,1010.8 898.1,1019.6 899.8,1011.2 901.5,1013.7 903.2,1011.4 904.9,1017.9 906.6,1009.5 908.3,1007.5 910.0,1013.6 911.7,1011.6 913.4,1010.1 915.1,1022.3 916.8,1012.1 918.5,1015.6 920.2,1007.3 921.9,1009.4 923.6,1012.9 925.3,1022.7 927.0,1012.5 928.7,1016.6 930.4,1004.3 932.1,1012.1 933.8,1014.5 935.5,1020.8 937.2,1019.0 938.9,1007.0 940.6,1021.3 942.3,1019.8 944.0,1020.4 945.7,1009.5 947.4,1025.3 949.1,1005.6 950.8,1015.3 952.5,1015.7 954.2,1018.7 955.9,1016.6 957.6,1012.2 959.3,1024.2 961.0,1004.5 962.7,1011.7 964.4,1013.1 966.1,1021.2 967.8,1017.4 969.5,1005.7 971.2,1027.1 972.9,1014.3 974.6,1021.4 976.3,1026.0 978.0,1012.5 979.7,1016.8 981.4,1006.4 983.1,1010.9 984.8,1023.8 986.5,1013.8 988.2,1020.3 989.9,1014.9 991.6,1018.9 993.3,1018.4 995.0,1026.4 996.7,1018.2 998.4,1015.9 1000.1,1018.4 1001.8,1011.6 1003.5,1009.2 1005.2,1001.0 1006.9,1018.7 1008.6,1015.9 1010.3,1012.3 1012.0,1019.2 1013.7,1016.1 1015.4,1012.0 1017.1,1017.9 1018.8,1016.9 1020.5,1017.8 1022.2,1020.0 1023.9,1015.9 1025.6,1018.0 1027.3,1013.7 1029.0,1008.7 1030.7,1012.9 1032.4,1014.4 1034.1,1008.8 1035.8,1013.6 1037.5,1015.6 1039.2,1008.9 1040.9,1013.5 1042.6,1015.4 1044.3,1013.5 1046.0,1020.6 1047.7,1007.7 1049.4,1025.5 1051.1,1010.8 1052.8,1023.1 1054.5,1014.1 1056.2,1024.3 1057.9,1013.2 1059.6,1012.0 1061.3,1007.0 1063.0,1010.5 1064.7,1017.4 1066.4,1014.3 1068.1,1014.7 1069.8,1013.5 1071.5,1013.9 1073.2,1017.8 1074.9,1014.7 1076.6,1009.9 1078.3,1020.5 1080.0,1014.0 1081.7,1013.2 1083.4,1015.1 1085.1,1011.2 1086.8,1010.6 1088.5,1007.8 1090.2,1018.9 1091.9,1005.2 1093.6,1014.4 1095.3,1004.3 1097.0,1005.4 1098.7,1019.0 1100.4,1013.0 1102.1,1016.4 1103.8,1013.2 1105.5,1012.5 1107.2,1017.6 1108.9,1014.7 1110.6,1019.3 1112.3,1018.1 1114.0,1008.0 1115.7,1006.5 1117.4,1021.0 1119.1,1019.5 1120.8,1010.0 1122.5,1019.0 1124.2,1006.7 1125.9,1005.1 1127.6,1019.5 1129.3,1011.1 1131.0,1005.9 1132.7,1007.1 1134.4,1019.6 1136.1,1022.5 1137.8,1011.1 1139.5,1022.8 1141.2,1006.8 1142.9,997.5 1144.6,1011.4 1146.3,1020.1 1148.0,1014.1 1149.7,1010.6 1151.4,1017.4 1153.1,1011.5 1154.8,1014.8 1156.5,1006.9 1158.2,1017.7 1159.9,1008.4 1161.6,1010.2 1163.3,1023.3 1165.0,1013.6 1166.7,1022.9 1168.4,1005.8 1170.1,1012.9 1171.8,1015.5 1173.5,1018.6 1175.2,1021.0 1176.9,1017.1 1178.6,1019.6 1180.3,1014.6 1182.0,1019.5 1183.7,1019.4 1185.4,1016.6 1187.1,1020.1 1188.8,1014.4 1190.5,1013.3 1192.2,1009.5 1193.9,1011.8 1195.6,1017.2 1197.3,1004.1 1199.0,1017.0 1200.7,1011.8 1202.4,1019.4 1204.1,1009.6 1205.8,1014.8 1207.5,1008.0 1209.2,1011.4 1210.9,1016.5 1212.6,1024.8 1214.3,1017.8 1216.0,1015.9 1217.7,1008.3 1219.4,1018.4 1221.1,1010.6 1222.8,1020.9 1224.5,1019.6 1226.2,1021.1 1227.9,1002.1 1229.6,1008.8 1231.3,1011.4 1233.0,1014.1 1234.7,1014.1 1236.4,1014.4 1238.1,1018.4 1239.8,1020.7 1241.5,1013.5 1243.2,1009.7 1244.9,1015.6 1246.6,1016.7 1248.3,1016.2 1250.0,1009.2 1251.7,1019.2 1253.4,1018.1 1255.1,1018.5 1256.8,1010.0 1258.5,1021.1 1260.2,1016.5 1261.9,1018.8 1263.6,1018.8 1265.3,1010.9 1267.0,1015.8 1268.7,1021.0 1270.4,1017.2 1272.1,1018.8 1273.8,1010.9 1275.5,1008.4 1277.2,1015.7 1278.9,1002.4 1280.6,1021.8 1282.3,1011.9 1284.0,1026.4 1285.7,1012.5 1287.4,1015.7 1289.1,1009.8 1290.8,1008.6 1292.5,1018.0 1294.2,1019.6 1295.9,1008.6 1297.6,1019.2 1299.3,1012.8 1301.0,1011.1 1302.7,1017.1 1304.4,1022.5 1306.1,1014.7 1307.8,1013.4 1309.5,1017.6 1311.2,1012.6 1312.9,1019.6 1314.6,1012.9 1316.3,1015.4 1318.0,1005.4 1319.7,1012.8 1321.4,1006.9 1323.1,1024.3 1324.8,1011.8 1326.5,1016.3 1328.2,1016.3 1329.9,1013.3 1331.6,1012.7 1333.3,1019.7 1335.0,1022.2 1336.7,1020.0 1338.4,1016.8 1340.1,1012.3 1341.8,1015.4 1343.5,1017.6 1345.2,1024.5 1346.9,1016.7 1348.6,1010.5 1350.3,1009.9 1352.0,1012.6 1353.7,1012.7 1355.4,1021.3 1357.1,1014.5 1358.8,1016.2 1360.5,1007.9 1362.2,1002.9 1363.9,1023.8 1365.6,1021.0 1367.3,1012.0 1369.0,1012.2 1370.7,1002.7 1372.4,1013.0 1374.1,1020.9 1375.8,1001.8 1377.5,1003.1 1379.2,1004.2 1380.9,995.6 1382.6,995.3 1384.3,996.0 1386.0,988.7 1387.7,995.1 1389.4,984.6 1391.1,990.6 1392.8,990.3 1394.5,993.2 1396.2,988.9 1397.9,984.9 1399.6,992.7 1401.3,995.1 1403.0,1004.6 1404.7,998.9 1406.4,1005.2 1408.1,1002.0 1409.8,1003.6 1411.5,1002.7 1413.2,997.1 1414.9,998.9 1416.6,997.2 1418.3,1007.4 1420.0,1018.2 1421.7,1002.6 1423.4,1016.2 1425.1,1021.8 1426.8,1012.7 1428.5,1017.2 1430.2,1012.0 1431.9,1009.5 1433.6,1009.7 1435.3,1010.7 1437.0,1017.4 1438.7,1016.0 1440.4,1010.9 1442.1,1020.8 1443.8,1016.2 1445.5,1009.7 1447.2,1016.9 1448.9,1023.7 1450.6,1023.2 1452.3,1010.3 1454.0,1019.0 1455.7,1016.8 1457.4,1023.2 1459.1,1027.5 1460.8,1001.9 1462.5,1021.3 1464.2,1009.6 1465.9,1017.8 1467.6,1025.4 1469.3,1024.8 1471.0,1013.6 1472.7,1026.8 1474.4,1014.8 1476.1,1017.3 1477.8,1010.4 1479.5,1014.4 1481.2,1010.7 1482.9,1021.1 1484.6,1013.4 1486.3,1023.0 1488.0,1013.5 1489.7,1023.6 1491.4,1022.2 1493.1,1017.4 1494.8,1021.3 1496.5,1026.2 1498.2,1027.0 1499.9,1016.5 1501.6,1017.6 1503.3,1024.1 1505.0,1034.3 1506.7,1022.4 1508.4,1011.7 1510.1,1013.3 1511.8,1016.4 1513.5,1018.8 1515.2,1010.0 1516.9,1006.5 1518.6,1019.0 1520.3,1015.8 1522.0,1018.3 1523.7,1009.4 1525.4,1014.6 1527.1,1023.9 1528.8,1016.6 1530.5,1011.7 1532.2,1022.3 1533.9,1016.3 1535.6,1023.6 1537.3,1021.1 1539.0,1017.5 1540.7,1016.7 1542.4,1024.3 1544.1,1016.5 1545.8,1021.7 1547.5,1026.2 1549.2,1016.0 1550.9,1016.1 1552.6,1019.3 1554.3,1011.5 1556.0,1021.6 1557.7,1014.4 1559.4,1016.6 1561.1,1011.6 1562.8,1026.1 1564.5,1027.2 1566.2,1020.3 1567.9,1023.0 1569.6,1021.7 1571.3,1025.7 1573.0,1031.0 1574.7,1033.2 1576.4,1022.9 1578.1,1025.0 1579.8,1016.1 1581.5,1024.4 1583.2,1026.7 1584.9,1013.9 1586.6,1017.9 1588.3,1011.7 1590.0,1018.7 1591.7,1017.2 1593.4,1011.8 1595.1,1009.6 1596.8,1017.9 1598.5,1010.5 1600.2,1024.0 1601.9,1015.8 1603.6,1015.2 1605.3,1021.1 1607.0,1021.3 1608.7,1014.5 1610.4,1023.9 1612.1,1022.4 1613.8,1022.7 1615.5,1030.4 1617.2,1018.5 1618.9,1020.7 1620.6,1011.6 1622.3,1022.2 1624.0,1015.1 1625.7,1015.7 1627.4,1019.8 1629.1,1021.1 1630.8,1019.0 1632.5,1019.5 1634.2,1017.6 1635.9,1010.4 1637.6,1028.9 1639.3,1017.6 1641.0,1021.1 1642.7,1011.9 1644.4,1016.2 1646.1,1021.9 1647.8,1017.9 1649.5,1014.5 1651.2,1017.8 1652.9,1020.4 1654.6,1016.6 1656.3,1012.7 1658.0,1026.1 1659.7,1019.0 1661.4,1030.1 1663.1,1021.7 1664.8,1011.2 1666.5,1013.4 1668.2,1014.3 1669.9,1022.5 1671.6,1010.8 1673.3,1027.5 1675.0,1016.2 1676.7,1022.5 1678.4,1024.6 1680.1,1014.4 1681.8,1016.1 1683.5,1020.5 1685.2,1025.6 1686.9,1023.8 1688.6,1018.3 1690.3,1025.1 1692.0,1019.9 1693.7,1023.2 1695.4,1014.1 1697.1,1029.1 1698.8,1018.7 1700.5,1016.9 1702.2,1019.2 1703.9,1021.5 1705.6,1023.9 1707.3,1016.2 1709.0,1009.4 1710.7,1031.4 1712.4,1015.7 1714.1,1025.7 1715.8,1015.3 1717.5,1013.3 1719.2,1024.9 1720.9,1012.0 1722.6,1004.0 1724.3,1024.5 1726.0,1022.8 1727.7,1025.2 1729.4,1021.0 1731.1,1014.3 1732.8,1014.1 1734.5,1018.9 1736.2,1020.8 1737.9,1017.9 1739.6,1021.2 1741.3,1026.2 1743.0,1021.4 1744.7,1024.9 1746.4,1017.1 1748.1,1016.0 1749.8,1015.0 1751.5,1022.6 1753.2,1016.8 1754.9,1022.1 1756.6,1015.1 1758.3,1022.7 1760.0,1027.2 1761.7,1021.6 1763.4,1020.2 1765.1,1016.6 1766.8,1018.3 1768.5,1017.1 1770.2,1026.2 1771.9,1026.6 1773.6,1025.1 1775.3,1021.2 1777.0,1024.7 1778.7,1021.9 1780.4,1011.8 1782.1,1016.1 1783.8,1014.4 1785.5,1020.9 1787.2,1017.9 1788.9,1023.3 1790.6,1013.6 1792.3,1023.1 1794.0,1024.8 1795.7,1020.0 1797.4,1016.6 1799.1,1016.7 1800.8,1022.9 1802.5,1021.7 1804.2,1008.7 1805.9,1027.9 1807.6,1022.4 1809.3,1023.9 1811.0,1018.5 1812.7,1027.2 1814.4,1031.3 1816.1,1018.0 1817.8,1022.9 1819.5,1021.6 1821.2,1020.6 1822.9,1019.1 1824.6,1030.3 1826.3,1013.0 1828.0,1023.9 1829.7,1022.2 1831.4,1015.3 1833.1,1024.7 1834.8,1016.2 1836.5,1028.1 1838.2,1027.7 1839.9,1027.2 1841.6,1032.0 1843.3,1018.5 1845.0,1022.3 1846.7,1025.6 1848.4,1034.3 1850.1,1027.5 1851.8,1025.5 1853.5,1026.9 1855.2,1027.7 1856.9,1019.2 1858.6,1029.9 1860.3,1029.1 1862.0,1022.2 1863.7,1020.0 1865.4,1014.7 1867.1,1027.6 1868.8,1022.8 1870.5,1020.1 1872.2,1017.7 1873.9,1018.1 1875.6,1027.7 1877.3,1016.1 1879.0,1028.0 1880.7,1025.0 1882.4,1025.4 1884.1,1022.9 1885.8,1016.6 1887.5,1037.4 1889.2,1030.2 1890.9,1023.4 1892.6,1024.7 1894.3,1024.6 1896.0,1009.9 1897.7,1027.4 1899.4,1021.3 1901.1,1023.1 1902.8,1013.0 1904.5,1019.4 1906.2,1017.7 1907.9,1034.6 1909.6,1021.6 1911.3,1023.0 1913.0,1028.6 1914.7,1023.6 1916.4,1027.1 1918.1,1028.2 1919.8,1024.5 1921.5,1023.7 1923.2,1017.1 1924.9,1020.0 1926.6,1014.5 1928.3,1031.2 1930.0,1025.3 1931.7,1032.4 1933.4,1025.4 1935.1,1030.4 1936.8,1017.4 1938.5,1015.8 1940.2,1024.5 1941.9,1024.1 1943.6,1029.2 1945.3,1017.6 1947.0,1016.4 1948.7,1021.1 1950.4,1026.1 1952.1,1022.6 1953.8,1020.1 1955.5,1017.8 1957.2,1022.1 1958.9,1028.2 1960.6,1024.2 1962.3,1016.6 1964.0,1023.3 1965.7,1032.8 1967.4,1024.4 1969.1,1032.4 1970.8,1020.8 1972.5,1023.0 1974.2,1036.6 1975.9,1019.9 1977.6,1023.2 1979.3,1023.4 1981.0,1027.3 1982.7,1023.5 1984.4,1034.6 1986.1,1031.2 1987.8,1029.9 1989.5,1027.1 1991.2,1028.5 1992.9,1015.0 1994.6,1026.4 1996.3,1016.8 1998.0,1022.1 1999.7,1030.9 2001.4,1027.2 2003.1,1017.1 2004.8,1023.9 2006.5,1022.9 2008.2,1027.1 2009.9,1021.3 2011.6,1014.6 2013.3,1025.1 2015.0,1009.0 2016.7,1019.5 2018.4,1015.6 2020.1,1015.4 2021.8,1025.2 2023.5,1010.7 2025.2,1010.9 2026.9,1015.7 2028.6,998.6 2030.3,1001.5 2032.0,1011.6 2033.7,1003.7 2035.4,1001.1 2037.1,1007.9 2038.8,985.5 2040.5,990.7 2042.2,983.5 2043.9,981.3 2045.6,968.6 2047.3,957.2 2049.0,961.0 2050.7,947.9 2052.4,947.8 2054.1,938.5 2055.8,947.3 2057.5,941.7 2059.2,951.6 2060.9,956.6 2062.6,948.8 2064.3,953.3 2066.0,964.8 2067.7,975.1 2069.4,982.5 2071.1,981.7 2072.8,989.2 2074.5,996.9 2076.2,998.0 2077.9,994.3 2079.6,1005.0 2081.3,1010.7 2083.0,1001.7 2084.7,1010.5 2086.4,1014.0 2088.1,1010.7 2089.8,1012.6 2091.5,1015.9 2093.2,1017.5 2094.9,1017.9 2096.6,1014.7 2098.3,1016.8 2100.0,1025.4 2101.7,1013.9 2103.4,1020.4 2105.1,1010.3 2106.8,1024.8 2108.5,1013.2 2110.2,1026.0 2111.9,1029.1 2113.6,1022.7 2115.3,1019.4 2117.0,1025.1 2118.7,1031.1 2120.4,1030.5 2122.1,1020.5 2123.8,1029.0 2125.5,1022.6 2127.2,1028.3 2128.9,1026.1 2130.6,1026.6 2132.3,1025.2 2134.0,1023.6 2135.7,1030.6 2137.4,1017.8 2139.1,1020.1 2140.8,1024.8 2142.5,1024.5 2144.2,1027.8 2145.9,1030.1 2147.6,1022.2 2149.3,1018.9 2151.0,1037.1 2152.7,1012.2 2154.4,1025.8" fill="none" stroke="#7e7e1c" stroke-width="5.4" stroke-linejoin="round"/>
<polyline points="425.5,1074.7 427.2,1081.1 428.9,1080.7 430.6,1079.3 432.3,1074.7 434.0,1078.8 435.7,1077.9 437.4,1079.7 439.1,1082.4 440.8,1064.4 442.5,1074.6 444.2,1074.1 445.9,1084.5 447.6,1084.7 449.3,1081.5 451.0,1086.0 452.7,1082.5 454.4,1086.7 456.1,1077.7 457.8,1077.3 459.5,1092.3 461.2,1084.2 462.9,1083.0 464.6,1085.3 466.3,1086.0 468.0,1079.4 469.7,1081.2 471.4,1091.6 473.1,1085.1 474.8,1084.1 476.5,1071.8 478.2,1077.8 479.9,1088.7 481.6,1087.7 483.3,1082.5 485.0,1090.4 486.7,1088.5 488.4,1076.1 490.1,1089.8 491.8,1083.8 493.5,1081.0 495.2,1089.0 496.9,1092.9 498.6,1086.0 500.3,1085.6 502.0,1086.6 503.7,1083.0 505.4,1081.9 507.1,1080.1 508.8,1076.5 510.5,1088.6 512.2,1086.7 513.9,1085.6 515.6,1083.9 517.3,1088.6 519.0,1088.5 520.7,1074.8 522.4,1091.4 524.1,1082.3 525.8,1079.9 527.5,1086.5 529.2,1084.6 530.9,1078.2 532.6,1088.2 534.3,1081.6 536.0,1074.3 537.7,1081.9 539.4,1079.7 541.1,1081.3 542.8,1079.8 544.5,1085.4 546.2,1085.1 547.9,1075.9 549.6,1089.1 551.3,1080.8 553.0,1075.4 554.7,1081.2 556.4,1071.0 558.1,1072.6 559.8,1070.9 561.5,1077.0 563.2,1080.4 564.9,1066.8 566.6,1063.0 568.3,1064.7 570.0,1068.7 571.7,1059.7 573.4,1058.0 575.1,1050.6 576.8,1060.1 578.5,1035.6 580.2,1038.7 581.9,1029.1 583.6,1024.6 585.3,1019.5 587.0,1007.3 588.7,975.8 590.4,954.1 592.1,923.0 593.8,882.6 595.5,836.0 597.2,778.6 598.9,714.4 600.6,649.3 602.3,577.9 604.0,516.0 605.7,467.3 607.4,442.7 609.1,447.1 610.8,482.1 612.5,536.0 614.2,601.7 615.9,672.9 617.6,745.0 619.3,799.6 621.0,860.0 622.7,904.9 624.4,941.0 626.1,964.8 627.8,992.7 629.5,1010.6 631.2,1025.6 632.9,1027.4 634.6,1042.7 636.3,1059.5 638.0,1052.2 639.7,1058.9 641.4,1066.7 643.1,1054.7 644.8,1072.9 646.5,1066.5 648.2,1059.6 649.9,1071.1 651.6,1073.4 653.3,1080.8 655.0,1073.2 656.7,1071.4 658.4,1082.5 660.1,1078.9 661.8,1081.5 663.5,1087.4 665.2,1078.0 666.9,1080.8 668.6,1080.2 670.3,1079.9 672.0,1084.4 673.7,1080.4 675.4,1081.1 677.1,1096.6 678.8,1088.4 680.5,1092.9 682.2,1085.8 683.9,1090.8 685.6,1080.3 687.3,1088.8 689.0,1084.5 690.7,1087.8 692.4,1091.8 694.1,1091.3 695.8,1075.5 697.5,1088.5 699.2,1094.1 700.9,1087.1 702.6,1082.5 704.3,1088.5 706.0,1094.9 707.7,1093.9 709.4,1094.5 711.1,1091.5 712.8,1088.8 714.5,1078.1 716.2,1089.6 717.9,1095.3 719.6,1093.9 721.3,1100.8 723.0,1093.0 724.7,1084.8 726.4,1080.4 728.1,1093.0 729.8,1095.6 731.5,1088.4 733.2,1098.7 734.9,1092.6 736.6,1086.8 738.3,1095.7 740.0,1098.1 741.7,1089.9 743.4,1092.1 745.1,1077.1 746.8,1091.7 748.5,1094.7 750.2,1090.9 751.9,1092.9 753.6,1091.4 755.3,1084.8 757.0,1097.8 758.7,1094.9 760.4,1095.1 762.1,1083.6 763.8,1095.0 765.5,1099.3 767.2,1088.5 768.9,1100.7 770.6,1088.4 772.3,1102.7 774.0,1086.5 775.7,1090.6 777.4,1093.6 779.1,1095.5 780.8,1072.4 782.5,1099.0 784.2,1087.9 785.9,1091.7 787.6,1105.9 789.3,1091.8 791.0,1088.4 792.7,1104.2 794.4,1100.1 796.1,1096.4 797.8,1103.8 799.5,1097.8 801.2,1100.0 802.9,1093.7 804.6,1097.7 806.3,1094.1 808.0,1083.5 809.7,1106.0 811.4,1090.8 813.1,1085.6 814.8,1092.6 816.5,1094.2 818.2,1086.1 819.9,1089.5 821.6,1091.2 823.3,1092.2 825.0,1095.5 826.7,1097.9 828.4,1096.2 830.1,1094.5 831.8,1097.1 833.5,1093.1 835.2,1086.4 836.9,1090.0 838.6,1100.3 840.3,1089.0 842.0,1087.6 843.7,1101.1 845.4,1091.8 847.1,1094.5 848.8,1090.6 850.5,1094.0 852.2,1090.2 853.9,1095.9 855.6,1099.1 857.3,1090.5 859.0,1097.9 860.7,1088.0 862.4,1100.6 864.1,1099.6 865.8,1092.2 867.5,1095.2 869.2,1095.3 870.9,1081.7 872.6,1091.1 874.3,1092.2 876.0,1095.4 877.7,1091.6 879.4,1094.6 881.1,1098.2 882.8,1096.9 884.5,1093.7 886.2,1105.5 887.9,1098.8 889.6,1092.6 891.3,1091.9 893.0,1100.7 894.7,1090.5 896.4,1092.7 898.1,1100.9 899.8,1098.7 901.5,1088.6 903.2,1113.0 904.9,1099.1 906.6,1091.6 908.3,1096.8 910.0,1100.5 911.7,1098.3 913.4,1094.5 915.1,1105.0 916.8,1092.9 918.5,1094.1 920.2,1093.7 921.9,1104.9 923.6,1104.4 925.3,1096.1 927.0,1101.0 928.7,1102.1 930.4,1096.0 932.1,1095.4 933.8,1106.2 935.5,1093.7 937.2,1102.8 938.9,1100.4 940.6,1104.9 942.3,1098.6 944.0,1097.9 945.7,1093.2 947.4,1102.2 949.1,1104.1 950.8,1093.4 952.5,1102.0 954.2,1100.2 955.9,1081.7 957.6,1095.8 959.3,1097.8 961.0,1091.9 962.7,1104.4 964.4,1097.4 966.1,1097.9 967.8,1109.6 969.5,1098.0 971.2,1109.6 972.9,1101.2 974.6,1099.7 976.3,1107.6 978.0,1089.2 979.7,1095.3 981.4,1093.8 983.1,1095.8 984.8,1088.3 986.5,1095.7 988.2,1097.7 989.9,1102.0 991.6,1112.8 993.3,1091.0 995.0,1096.8 996.7,1104.0 998.4,1108.7 1000.1,1101.9 1001.8,1094.7 1003.5,1105.1 1005.2,1097.7 1006.9,1102.8 1008.6,1104.4 1010.3,1101.4 1012.0,1103.1 1013.7,1096.6 1015.4,1106.8 1017.1,1096.6 1018.8,1103.0 1020.5,1107.6 1022.2,1098.1 1023.9,1101.8 1025.6,1104.4 1027.3,1099.0 1029.0,1103.6 1030.7,1101.4 1032.4,1092.7 1034.1,1098.2 1035.8,1099.1 1037.5,1106.9 1039.2,1097.2 1040.9,1107.7 1042.6,1105.3 1044.3,1100.6 1046.0,1106.6 1047.7,1095.4 1049.4,1103.2 1051.1,1101.6 1052.8,1098.8 1054.5,1103.3 1056.2,1109.3 1057.9,1105.5 1059.6,1096.2 1061.3,1106.7 1063.0,1107.7 1064.7,1100.9 1066.4,1091.6 1068.1,1104.6 1069.8,1103.2 1071.5,1108.0 1073.2,1117.1 1074.9,1095.1 1076.6,1100.2 1078.3,1100.2 1080.0,1092.4 1081.7,1102.3 1083.4,1097.3 1085.1,1110.5 1086.8,1108.6 1088.5,1108.4 1090.2,1104.0 1091.9,1102.8 1093.6,1107.3 1095.3,1113.4 1097.0,1110.0 1098.7,1104.3 1100.4,1105.7 1102.1,1094.7 1103.8,1103.3 1105.5,1091.7 1107.2,1102.4 1108.9,1101.5 1110.6,1106.6 1112.3,1110.6 1114.0,1102.2 1115.7,1096.5 1117.4,1099.1 1119.1,1096.1 1120.8,1092.1 1122.5,1091.8 1124.2,1100.0 1125.9,1096.6 1127.6,1107.4 1129.3,1106.9 1131.0,1098.7 1132.7,1104.7 1134.4,1104.2 1136.1,1102.6 1137.8,1100.1 1139.5,1112.4 1141.2,1113.2 1142.9,1108.3 1144.6,1103.0 1146.3,1107.8 1148.0,1113.8 1149.7,1097.3 1151.4,1101.4 1153.1,1102.6 1154.8,1101.2 1156.5,1109.0 1158.2,1109.5 1159.9,1106.1 1161.6,1100.4 1163.3,1097.9 1165.0,1097.2 1166.7,1108.0 1168.4,1114.4 1170.1,1105.3 1171.8,1105.8 1173.5,1101.5 1175.2,1100.1 1176.9,1098.1 1178.6,1102.6 1180.3,1104.1 1182.0,1110.4 1183.7,1104.9 1185.4,1101.9 1187.1,1095.0 1188.8,1113.3 1190.5,1107.7 1192.2,1099.1 1193.9,1107.3 1195.6,1109.3 1197.3,1110.7 1199.0,1106.0 1200.7,1111.1 1202.4,1106.9 1204.1,1101.8 1205.8,1106.0 1207.5,1109.5 1209.2,1104.6 1210.9,1107.0 1212.6,1102.1 1214.3,1101.8 1216.0,1095.3 1217.7,1104.5 1219.4,1106.1 1221.1,1106.6 1222.8,1109.2 1224.5,1088.6 1226.2,1101.0 1227.9,1114.3 1229.6,1094.8 1231.3,1109.1 1233.0,1106.4 1234.7,1097.2 1236.4,1097.3 1238.1,1112.1 1239.8,1099.5 1241.5,1116.7 1243.2,1108.0 1244.9,1112.1 1246.6,1099.8 1248.3,1104.4 1250.0,1109.6 1251.7,1115.5 1253.4,1098.8 1255.1,1105.9 1256.8,1108.3 1258.5,1106.1 1260.2,1119.7 1261.9,1096.6 1263.6,1109.7 1265.3,1094.5 1267.0,1109.5 1268.7,1099.6 1270.4,1110.7 1272.1,1112.3 1273.8,1119.8 1275.5,1110.1 1277.2,1108.3 1278.9,1104.3 1280.6,1098.6 1282.3,1106.3 1284.0,1109.0 1285.7,1109.6 1287.4,1113.2 1289.1,1104.4 1290.8,1100.5 1292.5,1113.0 1294.2,1098.3 1295.9,1100.0 1297.6,1108.6 1299.3,1113.2 1301.0,1115.8 1302.7,1114.3 1304.4,1111.7 1306.1,1105.5 1307.8,1109.1 1309.5,1103.9 1311.2,1097.7 1312.9,1103.8 1314.6,1112.9 1316.3,1109.1 1318.0,1107.2 1319.7,1108.4 1321.4,1115.2 1323.1,1113.4 1324.8,1102.4 1326.5,1111.9 1328.2,1111.6 1329.9,1105.3 1331.6,1105.2 1333.3,1113.4 1335.0,1100.1 1336.7,1111.3 1338.4,1105.2 1340.1,1109.2 1341.8,1099.9 1343.5,1103.4 1345.2,1103.4 1346.9,1103.0 1348.6,1099.4 1350.3,1106.1 1352.0,1101.9 1353.7,1103.7 1355.4,1109.2 1357.1,1095.0 1358.8,1106.4 1360.5,1097.9 1362.2,1105.1 1363.9,1106.0 1365.6,1104.2 1367.3,1102.0 1369.0,1101.5 1370.7,1106.1 1372.4,1093.4 1374.1,1092.3 1375.8,1098.8 1377.5,1086.8 1379.2,1096.8 1380.9,1093.8 1382.6,1088.3 1384.3,1086.7 1386.0,1088.8 1387.7,1085.0 1389.4,1069.4 1391.1,1083.0 1392.8,1081.9 1394.5,1073.3 1396.2,1083.3 1397.9,1074.4 1399.6,1079.0 1401.3,1082.7 1403.0,1081.0 1404.7,1087.4 1406.4,1087.2 1408.1,1074.4 1409.8,1076.4 1411.5,1092.2 1413.2,1101.8 1414.9,1099.1 1416.6,1096.0 1418.3,1089.3 1420.0,1096.1 1421.7,1095.7 1423.4,1108.5 1425.1,1098.1 1426.8,1097.7 1428.5,1100.7 1430.2,1097.9 1431.9,1084.4 1433.6,1111.5 1435.3,1104.7 1437.0,1102.6 1438.7,1106.7 1440.4,1108.0 1442.1,1102.3 1443.8,1103.9 1445.5,1104.8 1447.2,1104.5 1448.9,1104.6 1450.6,1097.0 1452.3,1101.5 1454.0,1114.6 1455.7,1111.7 1457.4,1108.5 1459.1,1113.4 1460.8,1110.7 1462.5,1103.5 1464.2,1111.2 1465.9,1105.6 1467.6,1101.9 1469.3,1104.6 1471.0,1106.0 1472.7,1104.5 1474.4,1105.1 1476.1,1106.1 1477.8,1113.4 1479.5,1113.5 1481.2,1114.1 1482.9,1107.0 1484.6,1111.8 1486.3,1110.7 1488.0,1101.6 1489.7,1109.3 1491.4,1114.3 1493.1,1097.4 1494.8,1104.7 1496.5,1114.0 1498.2,1114.4 1499.9,1111.9 1501.6,1115.0 1503.3,1108.3 1505.0,1107.8 1506.7,1111.0 1508.4,1113.1 1510.1,1112.0 1511.8,1107.4 1513.5,1114.4 1515.2,1110.0 1516.9,1100.6 1518.6,1107.4 1520.3,1115.1 1522.0,1098.9 1523.7,1110.6 1525.4,1110.4 1527.1,1102.2 1528.8,1121.6 1530.5,1120.2 1532.2,1104.0 1533.9,1112.9 1535.6,1106.8 1537.3,1104.4 1539.0,1109.9 1540.7,1104.6 1542.4,1111.4 1544.1,1106.8 1545.8,1108.3 1547.5,1104.8 1549.2,1106.3 1550.9,1113.9 1552.6,1112.3 1554.3,1118.3 1556.0,1114.9 1557.7,1106.7 1559.4,1107.0 1561.1,1113.3 1562.8,1111.4 1564.5,1106.8 1566.2,1113.3 1567.9,1111.5 1569.6,1110.2 1571.3,1110.8 1573.0,1117.4 1574.7,1123.5 1576.4,1128.8 1578.1,1119.1 1579.8,1117.3 1581.5,1108.1 1583.2,1106.0 1584.9,1127.3 1586.6,1101.9 1588.3,1115.6 1590.0,1115.4 1591.7,1116.4 1593.4,1122.0 1595.1,1108.5 1596.8,1108.9 1598.5,1112.3 1600.2,1114.9 1601.9,1126.6 1603.6,1106.1 1605.3,1118.6 1607.0,1120.7 1608.7,1113.6 1610.4,1119.3 1612.1,1124.4 1613.8,1117.9 1615.5,1112.1 1617.2,1121.6 1618.9,1116.2 1620.6,1113.4 1622.3,1117.9 1624.0,1117.5 1625.7,1116.5 1627.4,1105.6 1629.1,1115.5 1630.8,1108.7 1632.5,1125.0 1634.2,1111.2 1635.9,1115.1 1637.6,1109.8 1639.3,1123.5 1641.0,1116.2 1642.7,1122.8 1644.4,1120.6 1646.1,1120.9 1647.8,1126.2 1649.5,1125.3 1651.2,1122.3 1652.9,1109.5 1654.6,1122.2 1656.3,1118.7 1658.0,1118.3 1659.7,1126.1 1661.4,1116.2 1663.1,1115.7 1664.8,1121.2 1666.5,1122.7 1668.2,1116.2 1669.9,1120.7 1671.6,1123.6 1673.3,1129.4 1675.0,1121.1 1676.7,1118.1 1678.4,1111.7 1680.1,1123.6 1681.8,1114.0 1683.5,1116.1 1685.2,1120.1 1686.9,1115.4 1688.6,1110.6 1690.3,1117.1 1692.0,1116.9 1693.7,1130.0 1695.4,1111.0 1697.1,1125.5 1698.8,1119.8 1700.5,1115.8 1702.2,1127.0 1703.9,1121.9 1705.6,1113.4 1707.3,1118.6 1709.0,1113.4 1710.7,1122.7 1712.4,1121.9 1714.1,1119.7 1715.8,1123.0 1717.5,1114.5 1719.2,1112.7 1720.9,1123.6 1722.6,1126.6 1724.3,1123.4 1726.0,1126.2 1727.7,1125.9 1729.4,1119.7 1731.1,1119.0 1732.8,1118.1 1734.5,1125.1 1736.2,1127.3 1737.9,1113.1 1739.6,1108.8 1741.3,1114.6 1743.0,1111.1 1744.7,1116.3 1746.4,1120.5 1748.1,1123.6 1749.8,1109.4 1751.5,1117.1 1753.2,1125.2 1754.9,1121.9 1756.6,1117.3 1758.3,1128.3 1760.0,1115.2 1761.7,1122.0 1763.4,1127.0 1765.1,1127.5 1766.8,1117.9 1768.5,1117.5 1770.2,1117.6 1771.9,1126.6 1773.6,1115.4 1775.3,1118.8 1777.0,1123.9 1778.7,1113.0 1780.4,1118.2 1782.1,1122.6 1783.8,1123.9 1785.5,1121.9 1787.2,1110.8 1788.9,1124.2 1790.6,1116.2 1792.3,1120.1 1794.0,1127.4 1795.7,1113.3 1797.4,1121.1 1799.1,1125.4 1800.8,1107.4 1802.5,1116.3 1804.2,1118.9 1805.9,1117.4 1807.6,1114.3 1809.3,1111.4 1811.0,1114.2 1812.7,1119.9 1814.4,1119.1 1816.1,1122.6 1817.8,1117.3 1819.5,1111.8 1821.2,1126.1 1822.9,1110.2 1824.6,1120.8 1826.3,1111.2 1828.0,1125.7 1829.7,1123.4 1831.4,1121.8 1833.1,1124.3 1834.8,1107.2 1836.5,1119.5 1838.2,1117.1 1839.9,1122.6 1841.6,1114.9 1843.3,1126.8 1845.0,1116.4 1846.7,1121.7 1848.4,1115.7 1850.1,1117.6 1851.8,1117.9 1853.5,1108.4 1855.2,1123.7 1856.9,1117.6 1858.6,1120.4 1860.3,1116.5 1862.0,1117.9 1863.7,1121.7 1865.4,1119.9 1867.1,1132.8 1868.8,1115.1 1870.5,1121.0 1872.2,1114.8 1873.9,1117.6 1875.6,1113.5 1877.3,1122.2 1879.0,1117.5 1880.7,1129.6 1882.4,1124.1 1884.1,1127.0 1885.8,1127.7 1887.5,1121.4 1889.2,1127.6 1890.9,1118.7 1892.6,1114.0 1894.3,1112.2 1896.0,1117.7 1897.7,1117.9 1899.4,1135.1 1901.1,1122.6 1902.8,1118.9 1904.5,1108.8 1906.2,1122.6 1907.9,1129.7 1909.6,1109.1 1911.3,1110.9 1913.0,1127.0 1914.7,1116.4 1916.4,1117.2 1918.1,1118.7 1919.8,1121.2 1921.5,1116.9 1923.2,1118.4 1924.9,1118.3 1926.6,1128.7 1928.3,1113.4 1930.0,1120.2 1931.7,1131.1 1933.4,1129.7 1935.1,1119.0 1936.8,1121.7 1938.5,1126.6 1940.2,1131.1 1941.9,1122.4 1943.6,1125.8 1945.3,1119.0 1947.0,1124.4 1948.7,1123.4 1950.4,1115.5 1952.1,1129.8 1953.8,1122.7 1955.5,1111.2 1957.2,1121.4 1958.9,1123.7 1960.6,1133.2 1962.3,1113.1 1964.0,1122.3 1965.7,1124.1 1967.4,1119.9 1969.1,1122.5 1970.8,1124.7 1972.5,1118.2 1974.2,1125.8 1975.9,1125.4 1977.6,1114.8 1979.3,1125.8 1981.0,1123.5 1982.7,1120.0 1984.4,1111.4 1986.1,1120.5 1987.8,1108.5 1989.5,1116.5 1991.2,1123.5 1992.9,1126.2 1994.6,1128.2 1996.3,1113.2 1998.0,1120.2 1999.7,1115.7 2001.4,1111.9 2003.1,1117.7 2004.8,1109.4 2006.5,1110.6 2008.2,1114.7 2009.9,1114.3 2011.6,1122.8 2013.3,1119.8 2015.0,1111.1 2016.7,1109.1 2018.4,1115.0 2020.1,1114.9 2021.8,1107.7 2023.5,1112.4 2025.2,1122.6 2026.9,1104.8 2028.6,1116.1 2030.3,1105.2 2032.0,1103.1 2033.7,1093.1 2035.4,1089.2 2037.1,1099.7 2038.8,1085.3 2040.5,1084.3 2042.2,1093.8 2043.9,1083.2 2045.6,1068.0 2047.3,1063.0 2049.0,1064.5 2050.7,1060.9 2052.4,1058.3 2054.1,1050.6 2055.8,1050.3 2057.5,1051.1 2059.2,1056.8 2060.9,1057.6 2062.6,1074.0 2064.3,1058.4 2066.0,1070.2 2067.7,1077.7 2069.4,1086.7 2071.1,1081.6 2072.8,1086.3 2074.5,1095.7 2076.2,1101.7 2077.9,1097.1 2079.6,1101.3 2081.3,1105.8 2083.0,1100.2 2084.7,1095.9 2086.4,1099.7 2088.1,1115.3 2089.8,1116.3 2091.5,1110.6 2093.2,1121.0 2094.9,1118.6 2096.6,1121.5 2098.3,1114.6 2100.0,1124.9 2101.7,1118.1 2103.4,1116.4 2105.1,1125.8 2106.8,1124.3 2108.5,1124.3 2110.2,1129.5 2111.9,1128.3 2113.6,1127.8 2115.3,1127.2 2117.0,1131.6 2118.7,1118.7 2120.4,1112.5 2122.1,1118.9 2123.8,1124.3 2125.5,1129.3 2127.2,1129.8 2128.9,1129.4 2130.6,1119.7 2132.3,1124.4 2134.0,1123.1 2135.7,1132.4 2137.4,1128.9 2139.1,1130.3 2140.8,1128.4 2142.5,1133.5 2144.2,1119.0 2145.9,1123.9 2147.6,1123.6 2149.3,1123.9 2151.0,1121.2 2152.7,1130.8 2154.4,1126.4" fill="none" stroke="#dc34dc" stroke-width="5.4" stroke-linejoin="round"/>
<polyline points="425.5,1162.7 427.2,1164.2 428.9,1169.6 430.6,1171.1 432.3,1166.6 434.0,1172.9 435.7,1160.2 437.4,1170.2 439.1,1163.1 440.8,1163.5 442.5,1174.9 444.2,1171.6 445.9,1174.6 447.6,1175.8 449.3,1155.1 451.0,1172.8 452.7,1162.2 454.4,1173.2 456.1,1182.2 457.8,1168.4 459.5,1157.4 461.2,1170.7 462.9,1168.5 464.6,1177.5 466.3,1181.3 468.0,1168.8 469.7,1162.7 471.4,1164.2 473.1,1161.9 474.8,1161.7 476.5,1167.3 478.2,1172.2 479.9,1163.4 481.6,1168.7 483.3,1186.0 485.0,1160.0 486.7,1173.6 488.4,1171.3 490.1,1169.0 491.8,1173.3 493.5,1168.2 495.2,1165.3 496.9,1172.0 498.6,1170.0 500.3,1173.7 502.0,1164.3 503.7,1163.9 505.4,1179.4 507.1,1170.4 508.8,1174.1 510.5,1167.6 512.2,1171.2 513.9,1171.1 515.6,1166.0 517.3,1174.4 519.0,1178.1 520.7,1172.8 522.4,1177.0 524.1,1175.1 525.8,1169.9 527.5,1171.2 529.2,1164.5 530.9,1171.7 532.6,1170.4 534.3,1177.6 536.0,1163.5 537.7,1162.5 539.4,1172.2 541.1,1158.8 542.8,1169.0 544.5,1172.5 546.2,1158.9 547.9,1169.4 549.6,1167.4 551.3,1171.5 553.0,1159.5 554.7,1160.4 556.4,1158.1 558.1,1156.0 559.8,1164.7 561.5,1163.3 563.2,1167.4 564.9,1162.9 566.6,1146.4 568.3,1152.1 570.0,1153.2 571.7,1153.7 573.4,1142.4 575.1,1132.6 576.8,1134.6 578.5,1128.9 580.2,1130.8 581.9,1130.7 583.6,1127.0 585.3,1115.1 587.0,1108.3 588.7,1099.7 590.4,1083.7 592.1,1073.4 593.8,1058.3 595.5,1021.1 597.2,996.0 598.9,953.5 600.6,903.6 602.3,845.0 604.0,783.4 605.7,705.5 607.4,635.7 609.1,571.1 610.8,526.9 612.5,508.0 614.2,517.4 615.9,555.1 617.6,613.6 619.3,682.0 621.0,762.8 622.7,830.5 624.4,891.6 626.1,950.8 627.8,999.8 629.5,1035.7 631.2,1064.8 632.9,1090.1 634.6,1100.9 636.3,1118.2 638.0,1123.1 639.7,1129.2 641.4,1142.8 643.1,1139.9 644.8,1145.2 646.5,1151.3 648.2,1159.7 649.9,1154.8 651.6,1161.7 653.3,1152.0 655.0,1155.7 656.7,1172.2 658.4,1165.0 660.1,1163.8 661.8,1160.4 663.5,1165.1 665.2,1169.9 666.9,1167.7 668.6,1172.0 670.3,1168.6 672.0,1166.0 673.7,1185.5 675.4,1170.9 677.1,1171.9 678.8,1174.8 680.5,1172.7 682.2,1186.9 683.9,1175.6 685.6,1178.9 687.3,1175.7 689.0,1183.6 690.7,1184.2 692.4,1175.6 694.1,1169.0 695.8,1178.7 697.5,1165.0 699.2,1176.6 700.9,1182.2 702.6,1177.4 704.3,1171.5 706.0,1188.6 707.7,1181.1 709.4,1171.6 711.1,1167.8 712.8,1171.0 714.5,1183.2 716.2,1176.2 717.9,1181.1 719.6,1178.1 721.3,1181.2 723.0,1174.9 724.7,1187.4 726.4,1177.0 728.1,1178.3 729.8,1181.0 731.5,1183.2 733.2,1178.2 734.9,1176.5 736.6,1178.6 738.3,1192.1 740.0,1168.3 741.7,1182.4 743.4,1180.5 745.1,1173.0 746.8,1172.7 748.5,1176.0 750.2,1172.5 751.9,1178.0 753.6,1181.2 755.3,1180.7 757.0,1170.2 758.7,1172.3 760.4,1189.4 762.1,1172.8 763.8,1175.5 765.5,1187.9 767.2,1175.9 768.9,1179.6 770.6,1186.1 772.3,1188.1 774.0,1183.6 775.7,1177.5 777.4,1168.1 779.1,1177.3 780.8,1182.1 782.5,1178.4 784.2,1178.5 785.9,1183.3 787.6,1177.0 789.3,1172.4 791.0,1178.5 792.7,1181.1 794.4,1184.0 796.1,1179.7 797.8,1181.0 799.5,1175.5 801.2,1178.6 802.9,1177.9 804.6,1176.8 806.3,1180.0 808.0,1190.0 809.7,1179.7 811.4,1182.1 813.1,1171.9 814.8,1184.1 816.5,1189.6 818.2,1183.1 819.9,1185.1 821.6,1186.0 823.3,1189.8 825.0,1182.8 826.7,1182.9 828.4,1188.3 830.1,1180.7 831.8,1181.1 833.5,1181.2 835.2,1184.4 836.9,1181.8 838.6,1191.1 840.3,1183.2 842.0,1180.2 843.7,1191.9 845.4,1190.5 847.1,1195.0 848.8,1189.5 850.5,1179.1 852.2,1194.7 853.9,1190.6 855.6,1180.0 857.3,1183.8 859.0,1178.2 860.7,1187.4 862.4,1180.6 864.1,1189.4 865.8,1174.0 867.5,1192.8 869.2,1195.4 870.9,1188.7 872.6,1180.0 874.3,1181.9 876.0,1191.2 877.7,1172.8 879.4,1191.2 881.1,1179.2 882.8,1184.8 884.5,1184.9 886.2,1188.0 887.9,1191.2 889.6,1185.7 891.3,1189.8 893.0,1181.1 894.7,1189.4 896.4,1182.5 898.1,1189.3 899.8,1188.8 901.5,1190.2 903.2,1190.0 904.9,1188.8 906.6,1193.6 908.3,1185.6 910.0,1189.5 911.7,1188.9 913.4,1194.0 915.1,1188.9 916.8,1187.2 918.5,1198.5 920.2,1187.1 921.9,1181.6 923.6,1198.4 925.3,1187.1 927.0,1189.2 928.7,1188.6 930.4,1188.8 932.1,1187.8 933.8,1180.5 935.5,1191.1 937.2,1202.9 938.9,1195.1 940.6,1192.3 942.3,1188.4 944.0,1184.2 945.7,1185.7 947.4,1185.7 949.1,1183.8 950.8,1198.7 952.5,1190.8 954.2,1186.6 955.9,1190.1 957.6,1199.4 959.3,1194.4 961.0,1196.8 962.7,1186.4 964.4,1183.1 966.1,1191.5 967.8,1192.6 969.5,1195.7 971.2,1183.6 972.9,1189.3 974.6,1200.1 976.3,1182.9 978.0,1188.8 979.7,1189.5 981.4,1185.0 983.1,1196.6 984.8,1190.3 986.5,1183.7 988.2,1186.5 989.9,1186.8 991.6,1200.8 993.3,1189.0 995.0,1187.2 996.7,1198.6 998.4,1192.4 1000.1,1203.6 1001.8,1188.1 1003.5,1180.8 1005.2,1199.0 1006.9,1188.5 1008.6,1191.5 1010.3,1190.8 1012.0,1188.1 1013.7,1195.9 1015.4,1187.8 1017.1,1194.2 1018.8,1190.2 1020.5,1195.6 1022.2,1202.7 1023.9,1193.7 1025.6,1191.0 1027.3,1208.1 1029.0,1203.2 1030.7,1192.0 1032.4,1198.1 1034.1,1195.3 1035.8,1191.6 1037.5,1188.1 1039.2,1193.4 1040.9,1186.6 1042.6,1201.6 1044.3,1202.2 1046.0,1188.5 1047.7,1189.3 1049.4,1186.1 1051.1,1199.9 1052.8,1193.2 1054.5,1186.7 1056.2,1191.1 1057.9,1198.7 1059.6,1195.0 1061.3,1199.5 1063.0,1181.1 1064.7,1195.2 1066.4,1195.8 1068.1,1195.2 1069.8,1195.0 1071.5,1190.5 1073.2,1192.1 1074.9,1188.8 1076.6,1185.9 1078.3,1202.2 1080.0,1188.9 1081.7,1189.8 1083.4,1176.3 1085.1,1196.9 1086.8,1192.2 1088.5,1190.4 1090.2,1192.3 1091.9,1192.2 1093.6,1189.7 1095.3,1189.9 1097.0,1196.5 1098.7,1199.3 1100.4,1200.5 1102.1,1194.9 1103.8,1201.4 1105.5,1200.8 1107.2,1202.0 1108.9,1200.2 1110.6,1186.6 1112.3,1195.1 1114.0,1196.9 1115.7,1203.4 1117.4,1192.4 1119.1,1197.7 1120.8,1196.2 1122.5,1186.5 1124.2,1192.3 1125.9,1189.0 1127.6,1206.5 1129.3,1197.4 1131.0,1201.8 1132.7,1197.5 1134.4,1198.6 1136.1,1201.8 1137.8,1192.5 1139.5,1189.4 1141.2,1190.6 1142.9,1201.1 1144.6,1195.6 1146.3,1191.0 1148.0,1188.4 1149.7,1192.5 1151.4,1197.9 1153.1,1196.1 1154.8,1192.8 1156.5,1190.4 1158.2,1193.4 1159.9,1204.2 1161.6,1209.5 1163.3,1197.6 1165.0,1205.1 1166.7,1197.3 1168.4,1189.7 1170.1,1195.2 1171.8,1190.4 1173.5,1199.2 1175.2,1198.0 1176.9,1186.2 1178.6,1192.2 1180.3,1207.5 1182.0,1194.6 1183.7,1198.7 1185.4,1195.7 1187.1,1193.0 1188.8,1198.9 1190.5,1194.5 1192.2,1193.7 1193.9,1196.6 1195.6,1186.3 1197.3,1187.6 1199.0,1186.9 1200.7,1203.8 1202.4,1200.1 1204.1,1197.7 1205.8,1200.3 1207.5,1201.8 1209.2,1183.9 1210.9,1187.0 1212.6,1198.5 1214.3,1203.2 1216.0,1201.3 1217.7,1189.5 1219.4,1197.4 1221.1,1202.6 1222.8,1197.3 1224.5,1193.9 1226.2,1194.3 1227.9,1203.5 1229.6,1189.8 1231.3,1194.0 1233.0,1202.9 1234.7,1193.6 1236.4,1182.1 1238.1,1200.1 1239.8,1196.2 1241.5,1189.8 1243.2,1190.8 1244.9,1201.5 1246.6,1203.0 1248.3,1192.0 1250.0,1201.3 1251.7,1196.6 1253.4,1198.6 1255.1,1203.0 1256.8,1189.9 1258.5,1195.2 1260.2,1215.7 1261.9,1191.4 1263.6,1199.7 1265.3,1192.5 1267.0,1203.6 1268.7,1201.5 1270.4,1194.7 1272.1,1198.7 1273.8,1201.7 1275.5,1205.7 1277.2,1201.3 1278.9,1206.0 1280.6,1200.0 1282.3,1204.9 1284.0,1201.2 1285.7,1199.8 1287.4,1202.2 1289.1,1202.4 1290.8,1199.9 1292.5,1193.7 1294.2,1197.8 1295.9,1205.9 1297.6,1199.7 1299.3,1194.9 1301.0,1196.9 1302.7,1205.9 1304.4,1191.3 1306.1,1190.1 1307.8,1195.0 1309.5,1194.1 1311.2,1204.4 1312.9,1200.9 1314.6,1203.0 1316.3,1197.5 1318.0,1204.0 1319.7,1198.9 1321.4,1194.2 1323.1,1195.0 1324.8,1203.2 1326.5,1202.9 1328.2,1196.4 1329.9,1205.3 1331.6,1202.6 1333.3,1198.4 1335.0,1193.5 1336.7,1207.5 1338.4,1201.5 1340.1,1204.2 1341.8,1194.4 1343.5,1200.5 1345.2,1203.8 1346.9,1200.1 1348.6,1198.5 1350.3,1191.9 1352.0,1205.4 1353.7,1202.8 1355.4,1194.7 1357.1,1187.9 1358.8,1203.4 1360.5,1191.5 1362.2,1195.7 1363.9,1196.2 1365.6,1208.9 1367.3,1198.6 1369.0,1204.6 1370.7,1196.3 1372.4,1189.1 1374.1,1198.7 1375.8,1202.5 1377.5,1187.1 1379.2,1185.2 1380.9,1192.5 1382.6,1194.5 1384.3,1179.6 1386.0,1175.5 1387.7,1175.1 1389.4,1171.3 1391.1,1166.3 1392.8,1170.3 1394.5,1164.8 1396.2,1161.8 1397.9,1168.2 1399.6,1156.4 1401.3,1175.7 1403.0,1179.2 1404.7,1176.4 1406.4,1173.3 1408.1,1173.9 1409.8,1177.0 1411.5,1186.8 1413.2,1183.7 1414.9,1192.3 1416.6,1189.0 1418.3,1193.4 1420.0,1199.8 1421.7,1195.4 1423.4,1188.8 1425.1,1194.0 1426.8,1184.5 1428.5,1198.2 1430.2,1184.8 1431.9,1195.0 1433.6,1193.6 1435.3,1196.3 1437.0,1204.4 1438.7,1197.8 1440.4,1198.8 1442.1,1190.7 1443.8,1200.4 1445.5,1204.5 1447.2,1193.3 1448.9,1197.0 1450.6,1186.6 1452.3,1206.5 1454.0,1202.6 1455.7,1191.4 1457.4,1205.2 1459.1,1198.4 1460.8,1196.3 1462.5,1212.7 1464.2,1202.2 1465.9,1196.7 1467.6,1191.1 1469.3,1205.4 1471.0,1200.2 1472.7,1194.0 1474.4,1201.8 1476.1,1196.8 1477.8,1205.0 1479.5,1207.6 1481.2,1202.0 1482.9,1205.5 1484.6,1206.1 1486.3,1211.1 1488.0,1205.1 1489.7,1196.9 1491.4,1209.9 1493.1,1201.3 1494.8,1202.5 1496.5,1205.5 1498.2,1206.5 1499.9,1201.6 1501.6,1203.4 1503.3,1205.4 1505.0,1198.9 1506.7,1195.4 1508.4,1204.8 1510.1,1205.4 1511.8,1201.8 1513.5,1201.5 1515.2,1204.2 1516.9,1204.8 1518.6,1203.4 1520.3,1204.4 1522.0,1204.5 1523.7,1200.4 1525.4,1193.1 1527.1,1201.9 1528.8,1206.0 1530.5,1190.6 1532.2,1199.0 1533.9,1193.7 1535.6,1202.6 1537.3,1207.9 1539.0,1207.9 1540.7,1209.2 1542.4,1214.5 1544.1,1205.8 1545.8,1210.8 1547.5,1212.3 1549.2,1199.3 1550.9,1212.0 1552.6,1210.8 1554.3,1206.2 1556.0,1211.5 1557.7,1210.2 1559.4,1207.0 1561.1,1208.2 1562.8,1210.8 1564.5,1210.1 1566.2,1199.1 1567.9,1211.3 1569.6,1212.1 1571.3,1211.2 1573.0,1206.1 1574.7,1209.6 1576.4,1203.3 1578.1,1206.8 1579.8,1207.8 1581.5,1211.7 1583.2,1201.4 1584.9,1202.4 1586.6,1205.0 1588.3,1210.8 1590.0,1208.3 1591.7,1213.2 1593.4,1210.8 1595.1,1203.2 1596.8,1198.6 1598.5,1198.3 1600.2,1202.3 1601.9,1213.7 1603.6,1206.7 1605.3,1210.2 1607.0,1199.2 1608.7,1202.3 1610.4,1201.6 1612.1,1201.7 1613.8,1206.2 1615.5,1205.0 1617.2,1201.3 1618.9,1202.3 1620.6,1206.0 1622.3,1199.2 1624.0,1214.5 1625.7,1204.1 1627.4,1203.1 1629.1,1208.0 1630.8,1212.0 1632.5,1207.6 1634.2,1207.3 1635.9,1210.7 1637.6,1203.9 1639.3,1202.9 1641.0,1204.0 1642.7,1202.7 1644.4,1200.0 1646.1,1215.2 1647.8,1211.6 1649.5,1205.8 1651.2,1212.1 1652.9,1197.1 1654.6,1203.1 1656.3,1213.7 1658.0,1210.0 1659.7,1204.2 1661.4,1197.8 1663.1,1212.8 1664.8,1199.2 1666.5,1201.0 1668.2,1204.7 1669.9,1205.1 1671.6,1206.2 1673.3,1206.8 1675.0,1206.9 1676.7,1218.6 1678.4,1207.0 1680.1,1204.6 1681.8,1193.1 1683.5,1209.9 1685.2,1201.6 1686.9,1209.3 1688.6,1205.4 1690.3,1210.0 1692.0,1211.3 1693.7,1215.2 1695.4,1204.3 1697.1,1198.8 1698.8,1205.3 1700.5,1194.7 1702.2,1203.4 1703.9,1205.2 1705.6,1191.4 1707.3,1211.0 1709.0,1199.2 1710.7,1202.7 1712.4,1206.1 1714.1,1204.6 1715.8,1207.2 1717.5,1204.8 1719.2,1206.4 1720.9,1199.1 1722.6,1209.4 1724.3,1200.7 1726.0,1198.3 1727.7,1203.7 1729.4,1199.0 1731.1,1188.3 1732.8,1214.9 1734.5,1200.7 1736.2,1204.9 1737.9,1217.0 1739.6,1199.1 1741.3,1204.3 1743.0,1208.1 1744.7,1211.5 1746.4,1198.9 1748.1,1198.3 1749.8,1212.1 1751.5,1207.0 1753.2,1199.5 1754.9,1198.2 1756.6,1212.2 1758.3,1214.4 1760.0,1206.1 1761.7,1206.0 1763.4,1204.2 1765.1,1192.7 1766.8,1214.8 1768.5,1207.6 1770.2,1214.5 1771.9,1204.1 1773.6,1205.8 1775.3,1207.4 1777.0,1207.9 1778.7,1205.7 1780.4,1215.5 1782.1,1215.4 1783.8,1214.7 1785.5,1206.0 1787.2,1208.5 1788.9,1203.6 1790.6,1223.4 1792.3,1206.5 1794.0,1210.4 1795.7,1204.3 1797.4,1212.4 1799.1,1214.2 1800.8,1204.2 1802.5,1213.0 1804.2,1205.2 1805.9,1206.7 1807.6,1209.1 1809.3,1205.8 1811.0,1215.4 1812.7,1208.2 1814.4,1210.8 1816.1,1213.5 1817.8,1205.9 1819.5,1208.8 1821.2,1209.7 1822.9,1200.8 1824.6,1220.3 1826.3,1215.0 1828.0,1213.6 1829.7,1215.4 1831.4,1204.7 1833.1,1210.7 1834.8,1218.9 1836.5,1209.8 1838.2,1213.8 1839.9,1214.8 1841.6,1203.8 1843.3,1209.5 1845.0,1215.8 1846.7,1213.3 1848.4,1224.5 1850.1,1215.6 1851.8,1200.7 1853.5,1221.9 1855.2,1205.3 1856.9,1215.3 1858.6,1214.3 1860.3,1214.5 1862.0,1214.1 1863.7,1208.5 1865.4,1217.0 1867.1,1214.5 1868.8,1210.5 1870.5,1217.2 1872.2,1226.7 1873.9,1206.9 1875.6,1210.0 1877.3,1212.6 1879.0,1207.9 1880.7,1213.4 1882.4,1208.1 1884.1,1213.8 1885.8,1218.8 1887.5,1214.9 1889.2,1211.7 1890.9,1215.7 1892.6,1214.8 1894.3,1217.8 1896.0,1213.3 1897.7,1206.3 1899.4,1218.1 1901.1,1212.3 1902.8,1212.7 1904.5,1219.3 1906.2,1216.2 1907.9,1212.0 1909.6,1227.8 1911.3,1224.2 1913.0,1212.2 1914.7,1205.0 1916.4,1220.6 1918.1,1217.0 1919.8,1215.1 1921.5,1216.7 1923.2,1214.2 1924.9,1218.6 1926.6,1215.9 1928.3,1220.6 1930.0,1221.3 1931.7,1214.9 1933.4,1217.5 1935.1,1218.1 1936.8,1214.7 1938.5,1218.1 1940.2,1214.2 1941.9,1220.0 1943.6,1211.9 1945.3,1214.1 1947.0,1206.2 1948.7,1207.3 1950.4,1217.2 1952.1,1214.3 1953.8,1215.1 1955.5,1223.3 1957.2,1215.3 1958.9,1227.8 1960.6,1205.4 1962.3,1215.8 1964.0,1221.8 1965.7,1217.1 1967.4,1218.7 1969.1,1211.9 1970.8,1205.7 1972.5,1214.1 1974.2,1219.3 1975.9,1216.7 1977.6,1208.9 1979.3,1218.6 1981.0,1214.0 1982.7,1213.8 1984.4,1217.5 1986.1,1209.0 1987.8,1220.2 1989.5,1225.0 1991.2,1207.5 1992.9,1214.9 1994.6,1207.4 1996.3,1215.3 1998.0,1216.8 1999.7,1223.1 2001.4,1208.4 2003.1,1210.6 2004.8,1217.1 2006.5,1212.3 2008.2,1215.2 2009.9,1222.1 2011.6,1216.2 2013.3,1205.1 2015.0,1221.1 2016.7,1204.0 2018.4,1215.1 2020.1,1211.2 2021.8,1212.4 2023.5,1209.7 2025.2,1210.5 2026.9,1196.6 2028.6,1208.2 2030.3,1200.2 2032.0,1199.0 2033.7,1202.2 2035.4,1200.8 2037.1,1196.0 2038.8,1205.8 2040.5,1197.1 2042.2,1178.8 2043.9,1183.2 2045.6,1176.0 2047.3,1173.9 2049.0,1182.3 2050.7,1168.3 2052.4,1168.3 2054.1,1163.0 2055.8,1149.2 2057.5,1148.2 2059.2,1152.4 2060.9,1156.4 2062.6,1153.3 2064.3,1163.7 2066.0,1166.1 2067.7,1172.7 2069.4,1183.1 2071.1,1184.5 2072.8,1196.0 2074.5,1187.8 2076.2,1194.6 2077.9,1186.1 2079.6,1199.1 2081.3,1207.2 2083.0,1195.8 2084.7,1201.7 2086.4,1211.5 2088.1,1205.9 2089.8,1214.8 2091.5,1222.8 2093.2,1219.9 2094.9,1207.1 2096.6,1214.8 2098.3,1217.7 2100.0,1214.6 2101.7,1216.7 2103.4,1217.0 2105.1,1208.0 2106.8,1222.3 2108.5,1223.8 2110.2,1227.7 2111.9,1210.0 2113.6,1221.9 2115.3,1225.8 2117.0,1221.1 2118.7,1215.5 2120.4,1213.1 2122.1,1227.7 2123.8,1214.2 2125.5,1215.8 2127.2,1230.8 2128.9,1211.5 2130.6,1224.6 2132.3,1223.5 2134.0,1221.8 2135.7,1224.0 2137.4,1214.2 2139.1,1221.8 2140.8,1226.3 2142.5,1223.7 2144.2,1221.4 2145.9,1213.2 2147.6,1219.8 2149.3,1230.4 2151.0,1228.2 2152.7,1225.8 2154.4,1223.6" fill="none" stroke="#7a0c0c" stroke-width="5.4" stroke-linejoin="round"/>
<polyline points="425.5,1264.6 427.2,1258.4 428.9,1251.0 430.6,1260.3 432.3,1258.7 434.0,1260.6 435.7,1265.6 437.4,1260.1 439.1,1257.3 440.8,1257.4 442.5,1254.5 444.2,1260.0 445.9,1257.4 447.6,1262.8 449.3,1264.8 451.0,1268.9 452.7,1254.0 454.4,1263.0 456.1,1260.6 457.8,1264.4 459.5,1260.7 461.2,1264.2 462.9,1273.4 464.6,1264.8 466.3,1261.8 468.0,1274.8 469.7,1267.6 471.4,1261.8 473.1,1259.3 474.8,1259.6 476.5,1270.5 478.2,1269.8 479.9,1265.7 481.6,1275.8 483.3,1269.3 485.0,1269.7 486.7,1275.0 488.4,1283.0 490.1,1264.9 491.8,1269.2 493.5,1251.2 495.2,1272.8 496.9,1271.6 498.6,1266.7 500.3,1270.6 502.0,1271.3 503.7,1269.2 505.4,1269.0 507.1,1261.3 508.8,1275.1 510.5,1267.8 512.2,1261.3 513.9,1271.8 515.6,1263.7 517.3,1266.0 519.0,1266.9 520.7,1281.6 522.4,1276.1 524.1,1269.3 525.8,1266.9 527.5,1271.4 529.2,1267.5 530.9,1270.0 532.6,1262.1 534.3,1264.7 536.0,1271.6 537.7,1266.8 539.4,1267.8 541.1,1268.7 542.8,1264.8 544.5,1260.2 546.2,1267.9 547.9,1270.0 549.6,1269.1 551.3,1267.8 553.0,1265.3 554.7,1270.1 556.4,1264.1 558.1,1271.7 559.8,1252.4 561.5,1269.2 563.2,1264.2 564.9,1266.0 566.6,1256.4 568.3,1267.3 570.0,1251.7 571.7,1258.3 573.4,1250.1 575.1,1259.2 576.8,1244.6 578.5,1240.5 580.2,1235.2 581.9,1241.9 583.6,1232.1 585.3,1226.1 587.0,1212.5 588.7,1205.2 590.4,1176.8 592.1,1150.9 593.8,1123.0 595.5,1075.7 597.2,1019.2 598.9,956.8 600.6,879.0 602.3,801.8 604.0,720.7 605.7,650.9 607.4,598.2 609.1,576.5 610.8,584.3 612.5,624.9 614.2,688.1 615.9,767.7 617.6,851.3 619.3,932.5 621.0,1008.7 622.7,1066.7 624.4,1122.5 626.1,1161.0 627.8,1196.6 629.5,1209.9 631.2,1232.9 632.9,1239.4 634.6,1240.1 636.3,1258.9 638.0,1254.6 639.7,1260.4 641.4,1260.6 643.1,1264.0 644.8,1262.9 646.5,1263.1 648.2,1265.9 649.9,1272.7 651.6,1258.3 653.3,1262.8 655.0,1273.2 656.7,1272.2 658.4,1271.2 660.1,1276.9 661.8,1272.4 663.5,1274.4 665.2,1276.7 666.9,1272.2 668.6,1274.8 670.3,1280.4 672.0,1274.1 673.7,1273.4 675.4,1268.8 677.1,1275.4 678.8,1269.0 680.5,1276.6 682.2,1280.7 683.9,1289.3 685.6,1281.5 687.3,1286.3 689.0,1280.0 690.7,1282.5 692.4,1273.0 694.1,1279.3 695.8,1263.4 697.5,1275.4 699.2,1279.6 700.9,1286.0 702.6,1275.3 704.3,1273.4 706.0,1280.9 707.7,1282.6 709.4,1286.1 711.1,1285.1 712.8,1275.2 714.5,1278.3 716.2,1282.4 717.9,1285.8 719.6,1284.7 721.3,1282.5 723.0,1271.1 724.7,1289.4 726.4,1272.6 728.1,1281.4 729.8,1287.4 731.5,1289.7 733.2,1277.1 734.9,1285.5 736.6,1278.3 738.3,1283.6 740.0,1284.6 741.7,1281.2 743.4,1286.2 745.1,1277.6 746.8,1283.4 748.5,1280.5 750.2,1287.7 751.9,1286.5 753.6,1286.9 755.3,1282.1 757.0,1279.3 758.7,1287.0 760.4,1287.8 762.1,1290.2 763.8,1285.2 765.5,1289.7 767.2,1290.8 768.9,1281.7 770.6,1281.9 772.3,1286.1 774.0,1284.8 775.7,1279.5 777.4,1286.4 779.1,1279.3 780.8,1281.4 782.5,1298.4 784.2,1293.2 785.9,1285.6 787.6,1286.4 789.3,1286.8 791.0,1293.9 792.7,1288.4 794.4,1291.9 796.1,1290.7 797.8,1281.7 799.5,1287.4 801.2,1290.2 802.9,1279.8 804.6,1291.3 806.3,1288.7 808.0,1293.9 809.7,1289.5 811.4,1288.6 813.1,1282.9 814.8,1283.9 816.5,1287.9 818.2,1290.5 819.9,1299.0 821.6,1296.9 823.3,1284.1 825.0,1294.8 826.7,1282.0 828.4,1283.3 830.1,1292.8 831.8,1295.1 833.5,1283.1 835.2,1292.6 836.9,1287.3 838.6,1298.0 840.3,1287.3 842.0,1285.7 843.7,1287.4 845.4,1291.9 847.1,1295.2 848.8,1290.7 850.5,1292.0 852.2,1285.7 853.9,1295.1 855.6,1286.5 857.3,1289.1 859.0,1286.7 860.7,1285.5 862.4,1284.8 864.1,1284.9 865.8,1295.4 867.5,1274.4 869.2,1292.4 870.9,1279.7 872.6,1292.7 874.3,1282.5 876.0,1287.9 877.7,1288.7 879.4,1280.9 881.1,1293.2 882.8,1285.4 884.5,1288.5 886.2,1300.8 887.9,1287.4 889.6,1293.9 891.3,1284.8 893.0,1297.1 894.7,1282.7 896.4,1292.1 898.1,1283.1 899.8,1291.8 901.5,1298.4 903.2,1302.8 904.9,1285.0 906.6,1295.7 908.3,1275.7 910.0,1285.0 911.7,1295.0 913.4,1289.0 915.1,1291.0 916.8,1287.4 918.5,1292.6 920.2,1295.6 921.9,1301.2 923.6,1293.4 925.3,1294.5 927.0,1296.7 928.7,1290.1 930.4,1298.3 932.1,1288.7 933.8,1301.0 935.5,1290.9 937.2,1291.7 938.9,1292.1 940.6,1292.3 942.3,1295.6 944.0,1290.6 945.7,1288.9 947.4,1286.2 949.1,1289.2 950.8,1286.9 952.5,1297.3 954.2,1292.3 955.9,1291.7 957.6,1284.8 959.3,1296.3 961.0,1274.1 962.7,1293.2 964.4,1291.6 966.1,1288.2 967.8,1292.1 969.5,1285.7 971.2,1291.1 972.9,1289.6 974.6,1289.7 976.3,1292.4 978.0,1301.3 979.7,1295.6 981.4,1296.7 983.1,1288.6 984.8,1293.6 986.5,1291.3 988.2,1290.2 989.9,1287.9 991.6,1293.8 993.3,1299.2 995.0,1295.1 996.7,1301.0 998.4,1293.9 1000.1,1288.2 1001.8,1290.6 1003.5,1289.7 1005.2,1282.9 1006.9,1283.7 1008.6,1293.4 1010.3,1295.3 1012.0,1304.6 1013.7,1298.0 1015.4,1298.3 1017.1,1294.5 1018.8,1299.1 1020.5,1285.6 1022.2,1291.9 1023.9,1304.0 1025.6,1294.6 1027.3,1294.8 1029.0,1288.9 1030.7,1280.8 1032.4,1296.7 1034.1,1280.4 1035.8,1300.7 1037.5,1284.2 1039.2,1296.8 1040.9,1288.6 1042.6,1295.5 1044.3,1284.8 1046.0,1283.8 1047.7,1296.2 1049.4,1295.7 1051.1,1293.7 1052.8,1294.1 1054.5,1288.5 1056.2,1299.8 1057.9,1289.6 1059.6,1286.4 1061.3,1291.6 1063.0,1289.4 1064.7,1287.3 1066.4,1281.8 1068.1,1300.0 1069.8,1289.1 1071.5,1302.7 1073.2,1288.7 1074.9,1290.2 1076.6,1291.7 1078.3,1286.5 1080.0,1287.7 1081.7,1287.3 1083.4,1287.9 1085.1,1296.1 1086.8,1283.4 1088.5,1289.2 1090.2,1307.5 1091.9,1287.8 1093.6,1292.6 1095.3,1286.8 1097.0,1290.9 1098.7,1290.3 1100.4,1297.3 1102.1,1290.7 1103.8,1289.1 1105.5,1287.7 1107.2,1286.9 1108.9,1281.7 1110.6,1297.7 1112.3,1283.7 1114.0,1281.9 1115.7,1288.7 1117.4,1277.4 1119.1,1287.4 1120.8,1292.3 1122.5,1289.4 1124.2,1294.7 1125.9,1294.0 1127.6,1297.0 1129.3,1296.6 1131.0,1298.1 1132.7,1291.8 1134.4,1287.9 1136.1,1289.0 1137.8,1287.4 1139.5,1290.0 1141.2,1286.6 1142.9,1290.3 1144.6,1297.4 1146.3,1292.5 1148.0,1290.4 1149.7,1294.0 1151.4,1294.9 1153.1,1292.2 1154.8,1294.6 1156.5,1291.8 1158.2,1292.1 1159.9,1292.1 1161.6,1285.0 1163.3,1293.2 1165.0,1288.1 1166.7,1291.1 1168.4,1295.3 1170.1,1295.2 1171.8,1305.2 1173.5,1284.6 1175.2,1299.1 1176.9,1295.8 1178.6,1291.8 1180.3,1296.1 1182.0,1288.3 1183.7,1293.0 1185.4,1291.0 1187.1,1302.7 1188.8,1292.4 1190.5,1293.3 1192.2,1296.2 1193.9,1291.3 1195.6,1295.2 1197.3,1295.6 1199.0,1297.7 1200.7,1294.2 1202.4,1296.1 1204.1,1289.2 1205.8,1302.5 1207.5,1289.7 1209.2,1285.0 1210.9,1290.9 1212.6,1291.9 1214.3,1280.3 1216.0,1292.4 1217.7,1298.7 1219.4,1293.9 1221.1,1304.3 1222.8,1289.0 1224.5,1287.0 1226.2,1295.9 1227.9,1302.3 1229.6,1298.6 1231.3,1285.4 1233.0,1284.1 1234.7,1292.3 1236.4,1291.9 1238.1,1298.5 1239.8,1291.9 1241.5,1289.8 1243.2,1295.1 1244.9,1294.7 1246.6,1297.5 1248.3,1298.9 1250.0,1286.4 1251.7,1294.0 1253.4,1289.8 1255.1,1290.6 1256.8,1295.8 1258.5,1287.9 1260.2,1285.8 1261.9,1300.2 1263.6,1300.1 1265.3,1286.0 1267.0,1298.1 1268.7,1292.2 1270.4,1295.7 1272.1,1285.6 1273.8,1286.1 1275.5,1290.2 1277.2,1291.3 1278.9,1289.9 1280.6,1297.9 1282.3,1291.5 1284.0,1295.3 1285.7,1298.9 1287.4,1295.5 1289.1,1288.1 1290.8,1294.6 1292.5,1290.7 1294.2,1290.8 1295.9,1291.4 1297.6,1290.4 1299.3,1285.9 1301.0,1292.6 1302.7,1289.5 1304.4,1295.5 1306.1,1285.1 1307.8,1288.9 1309.5,1288.6 1311.2,1286.2 1312.9,1288.3 1314.6,1293.1 1316.3,1292.0 1318.0,1286.3 1319.7,1280.4 1321.4,1287.9 1323.1,1288.8 1324.8,1290.4 1326.5,1282.2 1328.2,1298.8 1329.9,1304.3 1331.6,1283.3 1333.3,1292.5 1335.0,1281.5 1336.7,1284.2 1338.4,1286.7 1340.1,1288.5 1341.8,1290.3 1343.5,1293.0 1345.2,1293.6 1346.9,1288.6 1348.6,1292.5 1350.3,1286.7 1352.0,1289.2 1353.7,1297.1 1355.4,1279.1 1357.1,1275.4 1358.8,1280.5 1360.5,1278.5 1362.2,1291.1 1363.9,1270.0 1365.6,1269.9 1367.3,1269.9 1369.0,1266.4 1370.7,1274.6 1372.4,1261.2 1374.1,1262.7 1375.8,1254.0 1377.5,1262.6 1379.2,1249.1 1380.9,1241.0 1382.6,1245.6 1384.3,1224.6 1386.0,1216.3 1387.7,1215.8 1389.4,1215.2 1391.1,1209.8 1392.8,1209.5 1394.5,1214.1 1396.2,1213.3 1397.9,1227.9 1399.6,1210.7 1401.3,1231.7 1403.0,1241.2 1404.7,1229.5 1406.4,1239.5 1408.1,1247.6 1409.8,1265.6 1411.5,1251.8 1413.2,1270.1 1414.9,1262.0 1416.6,1268.5 1418.3,1273.8 1420.0,1274.2 1421.7,1278.3 1423.4,1276.7 1425.1,1281.5 1426.8,1281.7 1428.5,1289.9 1430.2,1279.7 1431.9,1291.1 1433.6,1283.3 1435.3,1296.0 1437.0,1279.6 1438.7,1286.9 1440.4,1290.9 1442.1,1285.4 1443.8,1285.7 1445.5,1287.8 1447.2,1288.9 1448.9,1293.7 1450.6,1292.5 1452.3,1293.5 1454.0,1293.1 1455.7,1297.4 1457.4,1288.3 1459.1,1295.7 1460.8,1289.0 1462.5,1290.6 1464.2,1286.9 1465.9,1297.7 1467.6,1286.9 1469.3,1293.5 1471.0,1293.0 1472.7,1288.0 1474.4,1289.7 1476.1,1291.0 1477.8,1303.1 1479.5,1299.7 1481.2,1301.1 1482.9,1295.1 1484.6,1296.2 1486.3,1295.6 1488.0,1302.5 1489.7,1291.5 1491.4,1293.1 1493.1,1299.9 1494.8,1304.4 1496.5,1296.6 1498.2,1299.5 1499.9,1298.5 1501.6,1298.7 1503.3,1295.6 1505.0,1288.8 1506.7,1296.6 1508.4,1295.1 1510.1,1295.6 1511.8,1296.1 1513.5,1295.7 1515.2,1303.9 1516.9,1288.1 1518.6,1306.0 1520.3,1293.8 1522.0,1297.6 1523.7,1294.2 1525.4,1303.1 1527.1,1297.9 1528.8,1302.6 1530.5,1293.7 1532.2,1297.4 1533.9,1292.7 1535.6,1297.2 1537.3,1296.8 1539.0,1287.5 1540.7,1289.2 1542.4,1293.8 1544.1,1311.6 1545.8,1299.9 1547.5,1296.3 1549.2,1305.2 1550.9,1294.7 1552.6,1292.7 1554.3,1293.4 1556.0,1305.1 1557.7,1295.2 1559.4,1301.8 1561.1,1305.7 1562.8,1301.8 1564.5,1300.2 1566.2,1299.0 1567.9,1297.3 1569.6,1296.9 1571.3,1293.9 1573.0,1297.5 1574.7,1291.8 1576.4,1304.3 1578.1,1297.1 1579.8,1299.1 1581.5,1296.7 1583.2,1296.1 1584.9,1301.1 1586.6,1299.6 1588.3,1310.7 1590.0,1301.8 1591.7,1305.4 1593.4,1294.2 1595.1,1291.5 1596.8,1301.3 1598.5,1297.7 1600.2,1302.0 1601.9,1293.9 1603.6,1294.5 1605.3,1288.2 1607.0,1305.3 1608.7,1306.1 1610.4,1293.2 1612.1,1299.6 1613.8,1308.5 1615.5,1300.5 1617.2,1298.2 1618.9,1297.0 1620.6,1301.0 1622.3,1303.7 1624.0,1301.3 1625.7,1292.5 1627.4,1297.4 1629.1,1300.5 1630.8,1287.8 1632.5,1300.8 1634.2,1287.6 1635.9,1297.8 1637.6,1303.5 1639.3,1297.9 1641.0,1297.2 1642.7,1304.1 1644.4,1297.8 1646.1,1309.7 1647.8,1293.8 1649.5,1296.9 1651.2,1304.0 1652.9,1289.2 1654.6,1301.0 1656.3,1298.7 1658.0,1296.9 1659.7,1294.3 1661.4,1298.2 1663.1,1303.0 1664.8,1296.3 1666.5,1297.3 1668.2,1305.7 1669.9,1304.6 1671.6,1306.8 1673.3,1308.8 1675.0,1300.7 1676.7,1298.3 1678.4,1297.4 1680.1,1293.9 1681.8,1300.7 1683.5,1307.3 1685.2,1301.3 1686.9,1295.0 1688.6,1300.9 1690.3,1304.5 1692.0,1302.3 1693.7,1296.5 1695.4,1300.0 1697.1,1302.3 1698.8,1303.3 1700.5,1296.9 1702.2,1296.5 1703.9,1306.4 1705.6,1311.1 1707.3,1303.7 1709.0,1293.5 1710.7,1302.7 1712.4,1301.8 1714.1,1302.0 1715.8,1299.2 1717.5,1299.5 1719.2,1297.7 1720.9,1302.2 1722.6,1302.1 1724.3,1307.1 1726.0,1296.7 1727.7,1303.7 1729.4,1304.4 1731.1,1296.7 1732.8,1304.9 1734.5,1298.0 1736.2,1305.1 1737.9,1305.6 1739.6,1298.3 1741.3,1293.8 1743.0,1294.7 1744.7,1304.5 1746.4,1296.0 1748.1,1295.9 1749.8,1303.8 1751.5,1297.5 1753.2,1299.2 1754.9,1291.3 1756.6,1307.1 1758.3,1304.6 1760.0,1311.7 1761.7,1298.8 1763.4,1291.9 1765.1,1308.9 1766.8,1293.6 1768.5,1304.3 1770.2,1304.5 1771.9,1293.9 1773.6,1298.8 1775.3,1300.1 1777.0,1306.0 1778.7,1302.5 1780.4,1301.2 1782.1,1298.5 1783.8,1307.5 1785.5,1304.5 1787.2,1290.1 1788.9,1293.2 1790.6,1305.0 1792.3,1305.6 1794.0,1304.8 1795.7,1306.6 1797.4,1300.5 1799.1,1292.5 1800.8,1303.7 1802.5,1306.9 1804.2,1298.6 1805.9,1299.6 1807.6,1302.9 1809.3,1298.3 1811.0,1302.6 1812.7,1297.3 1814.4,1308.0 1816.1,1303.7 1817.8,1299.1 1819.5,1296.9 1821.2,1302.9 1822.9,1305.5 1824.6,1294.0 1826.3,1298.6 1828.0,1292.3 1829.7,1303.1 1831.4,1302.3 1833.1,1296.2 1834.8,1302.6 1836.5,1300.3 1838.2,1302.2 1839.9,1300.1 1841.6,1299.5 1843.3,1305.5 1845.0,1309.4 1846.7,1304.9 1848.4,1304.4 1850.1,1298.4 1851.8,1306.3 1853.5,1313.5 1855.2,1312.0 1856.9,1306.4 1858.6,1308.2 1860.3,1303.9 1862.0,1304.3 1863.7,1302.1 1865.4,1302.3 1867.1,1305.8 1868.8,1307.3 1870.5,1303.0 1872.2,1301.7 1873.9,1310.8 1875.6,1298.1 1877.3,1302.8 1879.0,1314.2 1880.7,1314.5 1882.4,1311.5 1884.1,1309.2 1885.8,1290.0 1887.5,1311.5 1889.2,1302.2 1890.9,1309.8 1892.6,1306.5 1894.3,1307.2 1896.0,1306.1 1897.7,1303.6 1899.4,1307.0 1901.1,1293.0 1902.8,1294.5 1904.5,1307.8 1906.2,1310.2 1907.9,1304.4 1909.6,1299.3 1911.3,1306.7 1913.0,1307.5 1914.7,1301.3 1916.4,1298.8 1918.1,1304.8 1919.8,1306.1 1921.5,1306.4 1923.2,1304.0 1924.9,1308.5 1926.6,1298.9 1928.3,1304.3 1930.0,1309.8 1931.7,1309.1 1933.4,1302.5 1935.1,1305.5 1936.8,1298.7 1938.5,1315.0 1940.2,1304.3 1941.9,1302.0 1943.6,1310.3 1945.3,1301.0 1947.0,1310.3 1948.7,1303.3 1950.4,1298.8 1952.1,1305.6 1953.8,1306.7 1955.5,1303.7 1957.2,1301.3 1958.9,1304.1 1960.6,1317.6 1962.3,1305.6 1964.0,1313.8 1965.7,1301.2 1967.4,1295.1 1969.1,1298.0 1970.8,1305.6 1972.5,1300.9 1974.2,1299.2 1975.9,1303.7 1977.6,1307.6 1979.3,1305.4 1981.0,1303.6 1982.7,1310.4 1984.4,1301.3 1986.1,1303.0 1987.8,1315.5 1989.5,1298.3 1991.2,1310.1 1992.9,1298.6 1994.6,1311.0 1996.3,1301.9 1998.0,1301.1 1999.7,1299.3 2001.4,1301.3 2003.1,1306.9 2004.8,1292.5 2006.5,1299.8 2008.2,1297.0 2009.9,1301.5 2011.6,1297.2 2013.3,1294.1 2015.0,1294.9 2016.7,1297.1 2018.4,1298.8 2020.1,1294.3 2021.8,1304.7 2023.5,1296.7 2025.2,1296.9 2026.9,1287.3 2028.6,1290.6 2030.3,1293.8 2032.0,1281.6 2033.7,1288.0 2035.4,1281.5 2037.1,1279.2 2038.8,1276.5 2040.5,1268.6 2042.2,1252.6 2043.9,1252.3 2045.6,1240.2 2047.3,1240.1 2049.0,1232.1 2050.7,1223.8 2052.4,1222.7 2054.1,1210.9 2055.8,1211.1 2057.5,1206.0 2059.2,1209.7 2060.9,1220.5 2062.6,1224.4 2064.3,1230.0 2066.0,1225.5 2067.7,1244.6 2069.4,1249.8 2071.1,1254.4 2072.8,1261.2 2074.5,1268.9 2076.2,1271.7 2077.9,1275.4 2079.6,1280.4 2081.3,1287.4 2083.0,1287.6 2084.7,1286.1 2086.4,1291.3 2088.1,1294.6 2089.8,1295.4 2091.5,1298.8 2093.2,1299.8 2094.9,1297.6 2096.6,1299.9 2098.3,1306.9 2100.0,1298.9 2101.7,1306.7 2103.4,1303.2 2105.1,1309.9 2106.8,1316.4 2108.5,1310.7 2110.2,1303.9 2111.9,1308.2 2113.6,1308.1 2115.3,1307.8 2117.0,1303.2 2118.7,1307.7 2120.4,1308.8 2122.1,1304.2 2123.8,1301.7 2125.5,1303.4 2127.2,1294.1 2128.9,1300.0 2130.6,1298.5 2132.3,1314.5 2134.0,1309.2 2135.7,1297.2 2137.4,1315.5 2139.1,1310.5 2140.8,1305.2 2142.5,1302.1 2144.2,1308.6 2145.9,1304.2 2147.6,1306.8 2149.3,1309.3 2151.0,1309.5 2152.7,1312.9 2154.4,1321.2" fill="none" stroke="#6a20d0" stroke-width="5.4" stroke-linejoin="round"/>
</g>
<rect x="424.7" y="34.4" width="1731.8" height="1295.8" fill="none" stroke="#000" stroke-width="5.6"/>
<path d="M397.7,1330.2H424.7M411.2,1205.6H424.7M397.7,1081.0H424.7M411.2,956.5H424.7M397.7,831.9H424.7M411.2,707.3H424.7M397.7,582.8H424.7M411.2,458.2H424.7M397.7,333.6H424.7M411.2,209.0H424.7M397.7,84.5H424.7M424.7,1330.2V1356.2M463.2,1330.2V1343.2M501.7,1330.2V1343.2M540.2,1330.2V1343.2M578.6,1330.2V1343.2M617.1,1330.2V1356.2M655.6,1330.2V1343.2M694.1,1330.2V1343.2M732.6,1330.2V1343.2M771.1,1330.2V1343.2M809.5,1330.2V1356.2M848.0,1330.2V1343.2M886.5,1330.2V1343.2M925.0,1330.2V1343.2M963.5,1330.2V1343.2M1002.0,1330.2V1356.2M1040.5,1330.2V1343.2M1078.9,1330.2V1343.2M1117.4,1330.2V1343.2M1155.9,1330.2V1343.2M1194.4,1330.2V1356.2M1232.9,1330.2V1343.2M1271.4,1330.2V1343.2M1309.8,1330.2V1343.2M1348.3,1330.2V1343.2M1386.8,1330.2V1356.2M1425.3,1330.2V1343.2M1463.8,1330.2V1343.2M1502.3,1330.2V1343.2M1540.7,1330.2V1343.2M1579.2,1330.2V1356.2M1617.7,1330.2V1343.2M1656.2,1330.2V1343.2M1694.7,1330.2V1343.2M1733.2,1330.2V1343.2M1771.7,1330.2V1356.2M1810.1,1330.2V1343.2M1848.6,1330.2V1343.2M1887.1,1330.2V1343.2M1925.6,1330.2V1343.2M1964.1,1330.2V1356.2M2002.6,1330.2V1343.2M2041.0,1330.2V1343.2M2079.5,1330.2V1343.2M2118.0,1330.2V1343.2M2156.5,1330.2V1356.2" stroke="#000" stroke-width="5.6" fill="none"/>
<g font-family='"Liberation Sans", Arial, sans-serif' font-size="97" fill="#000" text-anchor="end">
<text x="383.5" y="1357.2">0.00</text>
<text x="383.5" y="1108.0">0.25</text>
<text x="383.5" y="858.9">0.50</text>
<text x="383.5" y="609.8">0.75</text>
<text x="383.5" y="360.6">1.00</text>
<text x="383.5" y="111.5">1.25</text>
</g>
<g font-family='"Liberation Sans", Arial, sans-serif' font-size="97" fill="#000" text-anchor="middle">
<text x="424.7" y="1446">40</text>
<text x="617.1" y="1446">45</text>
<text x="809.5" y="1446">50</text>
<text x="1002.0" y="1446">55</text>
<text x="1194.4" y="1446">60</text>
<text x="1386.8" y="1446">65</text>
<text x="1579.2" y="1446">70</text>
<text x="1771.7" y="1446">75</text>
<text x="1964.1" y="1446">80</text>
<text x="2156.5" y="1446">85</text>
</g>
<g font-family='"Liberation Sans", Arial, sans-serif' fill="#000"><text font-size="97" x="1873.9" y="1568">2</text><text font-size="88" x="1928" y="1569">θ</text><text font-size="97" x="2000.9" y="1568">(</text><text font-size="90" x="2032.3" y="1547.9">°</text><text font-size="97" x="2070.8" y="1568">)</text></g>
<text font-family='"Liberation Sans", Arial, sans-serif' font-size="97" transform="translate(100.4,347) rotate(-90)">I/I<tspan font-size="59" dy="38.5">(110)</tspan></text>
<text font-family='"Liberation Sans", Arial, sans-serif' font-size="79" text-anchor="middle" transform="translate(557.0,185.4) rotate(-90) scale(1.064,1)">(110)</text>
<text font-family='"Liberation Sans", Arial, sans-serif' font-size="79" text-anchor="middle" transform="translate(1412,516.5) rotate(-90) scale(1.032,1)">(200)</text>
<text font-family='"Liberation Sans", Arial, sans-serif' font-size="79" text-anchor="middle" transform="translate(2077.8,479.4) rotate(-90) scale(1.068,1)">(211)</text>
<line x1="632" y1="75.0" x2="783" y2="75.0" stroke="#000000" stroke-width="5"/>
<text font-family='"Liberation Sans", Arial, sans-serif' font-size="67" transform="translate(799.8,97.7) scale(1.05,1)">S1</text>
<text font-family='"Liberation Sans", Arial, sans-serif' font-size="67" transform="translate(894.8,97.7) scale(1.0516,1)">(50 W)</text>
<line x1="632" y1="158.5" x2="783" y2="158.5" stroke="#c01c1c" stroke-width="5"/>
<text font-family='"Liberation Sans", Arial, sans-serif' font-size="67" transform="translate(799.8,182.0) scale(1.05,1)">S2</text>
<text font-family='"Liberation Sans", Arial, sans-serif' font-size="67" transform="translate(893.8,182.0) scale(1.0507,1)">(100 W)</text>
<line x1="632" y1="244.7" x2="783" y2="244.7" stroke="#26d426" stroke-width="5"/>
<text font-family='"Liberation Sans", Arial, sans-serif' font-size="67" transform="translate(799.8,267.0) scale(1.05,1)">S3</text>
<text font-family='"Liberation Sans", Arial, sans-serif' font-size="67" transform="translate(893.8,267.0) scale(1.0507,1)">(150 W)</text>
<line x1="632" y1="342.7" x2="783" y2="342.7" stroke="#10108c" stroke-width="5"/>
<text font-family='"Liberation Sans", Arial, sans-serif' font-size="67" transform="translate(800.4,366.0) scale(1.05,1)">S4</text>
<text font-family='"Liberation Sans", Arial, sans-serif' font-size="67" transform="translate(893.9,366.0) scale(1.0333,1)">(1×10<tspan font-size="36" dy="-40">−3</tspan><tspan dy="40">mbar Ar)</tspan></text>
<line x1="1392" y1="83.1" x2="1542" y2="83.1" stroke="#7e7e1c" stroke-width="5"/>
<text font-family='"Liberation Sans", Arial, sans-serif' font-size="67" transform="translate(1560.2,106.4) scale(1.05,1)">S5</text>
<text font-family='"Liberation Sans", Arial, sans-serif' font-size="67" transform="translate(1656.4,106.4) scale(1.0539,1)">(3×10<tspan font-size="36" dy="-40">−3</tspan><tspan dy="40">mbar Ar)</tspan></text>
<line x1="1392" y1="181.8" x2="1542" y2="181.8" stroke="#dc34dc" stroke-width="5"/>
<text font-family='"Liberation Sans", Arial, sans-serif' font-size="67" transform="translate(1560.2,205.2) scale(1.05,1)">S6</text>
<text font-family='"Liberation Sans", Arial, sans-serif' font-size="67" transform="translate(1656.3,205.2) scale(1.0541,1)">(6×10<tspan font-size="36" dy="-40">−3</tspan><tspan dy="40">mbar Ar)</tspan></text>
<line x1="1392" y1="279.9" x2="1542" y2="279.9" stroke="#7a0c0c" stroke-width="5"/>
<text font-family='"Liberation Sans", Arial, sans-serif' font-size="67" transform="translate(1560.2,304.5) scale(1.05,1)">S7</text>
<text font-family='"Liberation Sans", Arial, sans-serif' font-size="67" transform="translate(1656.2,304.5) scale(1.0640,1)">(10<tspan font-size="36" dy="-40">−2</tspan><tspan dy="40">mbar Ar)</tspan></text>
<line x1="1392" y1="365.0" x2="1542" y2="365.0" stroke="#6a20d0" stroke-width="5"/>
<text font-family='"Liberation Sans", Arial, sans-serif' font-size="67" transform="translate(1560.2,389.8) scale(1.05,1)">S8</text>
<text font-family='"Liberation Sans", Arial, sans-serif' font-size="67" transform="translate(1656.3,389.8) scale(1.0436,1)">(10 cm)</text>
<text font-family='"Liberation Sans", Arial, sans-serif' font-size="74" transform="translate(1645.1,653.8) scale(1.0,1)">S1</text>
<text font-family='"Liberation Sans", Arial, sans-serif' font-size="70" transform="translate(1641.9,746) scale(1.06,1)">S2</text>
<text font-family='"Liberation Sans", Arial, sans-serif' font-size="70" transform="translate(1645.2,839.5) scale(1.06,1)">S3</text>
<text font-family='"Liberation Sans", Arial, sans-serif' font-size="70" transform="translate(1648.3,926.5) scale(1.05,1)">S4</text>
<text font-family='"Liberation Sans", Arial, sans-serif' font-size="70" transform="translate(1647.6,1011.5) scale(1.07,1)">S5</text>
<text font-family='"Liberation Sans", Arial, sans-serif' font-size="70" transform="translate(1646.8,1103.5) scale(1.07,1)">S6</text>
<text font-family='"Liberation Sans", Arial, sans-serif' font-size="70" transform="translate(1649.9,1194) scale(1.05,1)">S7</text>
<text font-family='"Liberation Sans", Arial, sans-serif' font-size="70" transform="translate(1649.9,1280.5) scale(1.05,1)">S8</text>
</g>
</svg>
</body></html>
